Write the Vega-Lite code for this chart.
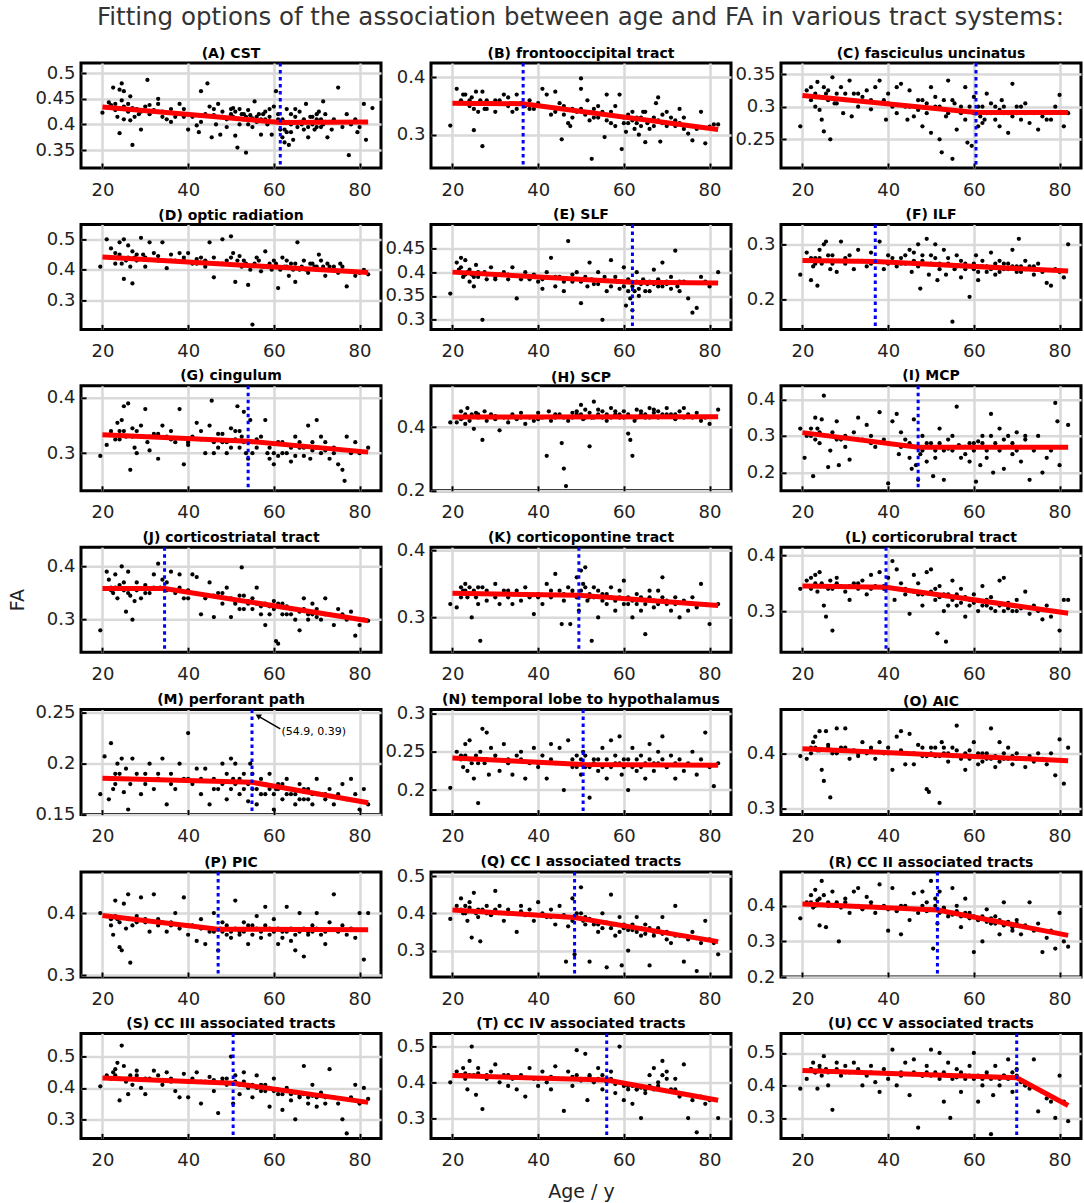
{
  "$schema": "https://vega.github.io/schema/vega-lite/v6.json",
  "background": "white",
  "padding": {"left": 6, "top": 4, "right": 0, "bottom": 0},
  "title": {"text": "Fitting options of the association between age and FA in various tract systems:", "fontSize": 24.5, "fontWeight": "normal", "color": "#333", "offset": 15, "anchor": "middle", "frame": "bounds", "dx": 36, "dy": 0},
  "datasets": {
    "pts": [
      {"p":"A","x":20,"y":0.423},{"p":"A","x":21.5,"y":0.443},{"p":"A","x":22.5,"y":0.472},{"p":"A","x":23,"y":0.44},{"p":"A","x":23.5,"y":0.415},{"p":"A","x":24,"y":0.468},{"p":"A","x":24.5,"y":0.48},{"p":"A","x":24.5,"y":0.447},{"p":"A","x":25,"y":0.465},{"p":"A","x":25,"y":0.435},{"p":"A","x":25,"y":0.41},{"p":"A","x":24,"y":0.383},{"p":"A","x":25.5,"y":0.43},{"p":"A","x":26,"y":0.425},{"p":"A","x":26.5,"y":0.455},{"p":"A","x":26.5,"y":0.408},{"p":"A","x":27,"y":0.36},{"p":"A","x":27.5,"y":0.415},{"p":"A","x":28,"y":0.43},{"p":"A","x":28.5,"y":0.42},{"p":"A","x":29,"y":0.39},{"p":"A","x":30,"y":0.435},{"p":"A","x":30.5,"y":0.487},{"p":"A","x":31,"y":0.438},{"p":"A","x":32,"y":0.428},{"p":"A","x":33,"y":0.45},{"p":"A","x":33,"y":0.44},{"p":"A","x":34,"y":0.415},{"p":"A","x":35,"y":0.41},{"p":"A","x":36,"y":0.43},{"p":"A","x":37,"y":0.415},{"p":"A","x":38,"y":0.44},{"p":"A","x":38.5,"y":0.42},{"p":"A","x":39,"y":0.43},{"p":"A","x":40,"y":0.39},{"p":"A","x":41,"y":0.415},{"p":"A","x":42,"y":0.398},{"p":"A","x":42.5,"y":0.385},{"p":"A","x":43,"y":0.465},{"p":"A","x":44,"y":0.42},{"p":"A","x":44.5,"y":0.48},{"p":"A","x":45,"y":0.435},{"p":"A","x":45.5,"y":0.375},{"p":"A","x":46,"y":0.43},{"p":"A","x":46.5,"y":0.4},{"p":"A","x":47,"y":0.44},{"p":"A","x":47.5,"y":0.38},{"p":"A","x":48,"y":0.415},{"p":"A","x":49,"y":0.395},{"p":"A","x":50,"y":0.43},{"p":"A","x":50,"y":0.42},{"p":"A","x":50.5,"y":0.415},{"p":"A","x":51,"y":0.378},{"p":"A","x":51,"y":0.425},{"p":"A","x":51.5,"y":0.355},{"p":"A","x":52,"y":0.43},{"p":"A","x":52.5,"y":0.42},{"p":"A","x":53,"y":0.41},{"p":"A","x":53,"y":0.42},{"p":"A","x":53.5,"y":0.345},{"p":"A","x":54,"y":0.428},{"p":"A","x":54,"y":0.4},{"p":"A","x":55,"y":0.412},{"p":"A","x":55.5,"y":0.445},{"p":"A","x":56,"y":0.405},{"p":"A","x":56,"y":0.415},{"p":"A","x":57,"y":0.38},{"p":"A","x":57.5,"y":0.42},{"p":"A","x":58,"y":0.41},{"p":"A","x":58,"y":0.425},{"p":"A","x":59,"y":0.43},{"p":"A","x":59.5,"y":0.38},{"p":"A","x":60,"y":0.435},{"p":"A","x":60,"y":0.405},{"p":"A","x":60.5,"y":0.465},{"p":"A","x":61,"y":0.41},{"p":"A","x":61.5,"y":0.39},{"p":"A","x":62,"y":0.375},{"p":"A","x":62,"y":0.41},{"p":"A","x":62.5,"y":0.365},{"p":"A","x":63,"y":0.385},{"p":"A","x":63,"y":0.43},{"p":"A","x":63.5,"y":0.36},{"p":"A","x":64,"y":0.42},{"p":"A","x":64,"y":0.4},{"p":"A","x":64.5,"y":0.37},{"p":"A","x":65,"y":0.43},{"p":"A","x":65.5,"y":0.395},{"p":"A","x":66,"y":0.405},{"p":"A","x":66,"y":0.425},{"p":"A","x":67,"y":0.39},{"p":"A","x":67.5,"y":0.44},{"p":"A","x":68,"y":0.375},{"p":"A","x":68,"y":0.395},{"p":"A","x":68.5,"y":0.415},{"p":"A","x":69,"y":0.4},{"p":"A","x":70,"y":0.41},{"p":"A","x":70,"y":0.395},{"p":"A","x":70.5,"y":0.425},{"p":"A","x":71,"y":0.395},{"p":"A","x":71,"y":0.41},{"p":"A","x":71.5,"y":0.445},{"p":"A","x":72,"y":0.42},{"p":"A","x":72.5,"y":0.375},{"p":"A","x":73,"y":0.405},{"p":"A","x":74,"y":0.41},{"p":"A","x":75,"y":0.472},{"p":"A","x":76,"y":0.395},{"p":"A","x":77,"y":0.42},{"p":"A","x":77.5,"y":0.34},{"p":"A","x":78,"y":0.4},{"p":"A","x":79,"y":0.41},{"p":"A","x":79.5,"y":0.385},{"p":"A","x":80,"y":0.395},{"p":"A","x":81,"y":0.44},{"p":"A","x":81.5,"y":0.37},{"p":"A","x":83,"y":0.432},
      {"p":"A","x":22,"y":0.438},{"p":"A","x":23,"y":0.428},{"p":"A","x":26,"y":0.44},{"p":"A","x":27,"y":0.432},{"p":"A","x":29,"y":0.425},{"p":"A","x":31,"y":0.42},{"p":"A","x":34,"y":0.425},{"p":"A","x":36,"y":0.405},{"p":"A","x":39,"y":0.415},{"p":"A","x":43,"y":0.405},{"p":"A","x":46,"y":0.418},{"p":"A","x":48,"y":0.425},{"p":"A","x":49,"y":0.41},{"p":"A","x":50.5,"y":0.432},{"p":"A","x":52,"y":0.4},{"p":"A","x":53.5,"y":0.415},{"p":"A","x":54.5,"y":0.418},{"p":"A","x":55,"y":0.395},{"p":"A","x":56.5,"y":0.42},{"p":"A","x":57,"y":0.41},{"p":"A","x":58.5,"y":0.4},{"p":"A","x":59,"y":0.415},{"p":"A","x":61,"y":0.42},{"p":"A","x":62.5,"y":0.39},{"p":"A","x":63.5,"y":0.405},{"p":"A","x":64,"y":0.385},{"p":"A","x":65,"y":0.415},{"p":"A","x":66.5,"y":0.4},{"p":"A","x":67,"y":0.41},{"p":"A","x":69,"y":0.415},{"p":"A","x":69.5,"y":0.39},{"p":"A","x":70,"y":0.42},{"p":"A","x":71.5,"y":0.4},{"p":"A","x":72,"y":0.405},{"p":"A","x":73.5,"y":0.39},
      {"p":"B","x":19.5,"y":0.316},{"p":"B","x":21,"y":0.38},{"p":"B","x":22,"y":0.36},{"p":"B","x":23,"y":0.37},{"p":"B","x":23.5,"y":0.355},{"p":"B","x":24,"y":0.35},{"p":"B","x":24.5,"y":0.365},{"p":"B","x":25,"y":0.345},{"p":"B","x":25,"y":0.308},{"p":"B","x":25.5,"y":0.375},{"p":"B","x":26,"y":0.34},{"p":"B","x":26.5,"y":0.36},{"p":"B","x":27,"y":0.375},{"p":"B","x":27,"y":0.28},{"p":"B","x":27.5,"y":0.345},{"p":"B","x":28,"y":0.36},{"p":"B","x":29,"y":0.355},{"p":"B","x":30,"y":0.34},{"p":"B","x":31,"y":0.36},{"p":"B","x":32,"y":0.37},{"p":"B","x":33,"y":0.365},{"p":"B","x":34,"y":0.34},{"p":"B","x":35,"y":0.37},{"p":"B","x":36,"y":0.355},{"p":"B","x":37,"y":0.35},{"p":"B","x":38,"y":0.36},{"p":"B","x":39,"y":0.345},{"p":"B","x":40,"y":0.355},{"p":"B","x":41,"y":0.38},{"p":"B","x":42,"y":0.37},{"p":"B","x":43,"y":0.335},{"p":"B","x":44,"y":0.375},{"p":"B","x":45,"y":0.355},{"p":"B","x":45.5,"y":0.292},{"p":"B","x":46,"y":0.35},{"p":"B","x":47,"y":0.32},{"p":"B","x":47.5,"y":0.315},{"p":"B","x":48,"y":0.345},{"p":"B","x":49,"y":0.34},{"p":"B","x":50,"y":0.38},{"p":"B","x":50,"y":0.398},{"p":"B","x":51,"y":0.335},{"p":"B","x":51.5,"y":0.36},{"p":"B","x":52,"y":0.325},{"p":"B","x":52.5,"y":0.258},{"p":"B","x":53,"y":0.345},{"p":"B","x":54,"y":0.33},{"p":"B","x":55,"y":0.34},{"p":"B","x":55.5,"y":0.296},{"p":"B","x":56,"y":0.37},{"p":"B","x":57,"y":0.32},{"p":"B","x":58,"y":0.35},{"p":"B","x":59,"y":0.37},{"p":"B","x":59.5,"y":0.275},{"p":"B","x":60,"y":0.33},{"p":"B","x":60.5,"y":0.305},{"p":"B","x":61,"y":0.32},{"p":"B","x":62,"y":0.34},{"p":"B","x":62.5,"y":0.31},{"p":"B","x":63,"y":0.33},{"p":"B","x":63.5,"y":0.3},{"p":"B","x":64,"y":0.315},{"p":"B","x":64.5,"y":0.34},{"p":"B","x":65,"y":0.287},{"p":"B","x":65.5,"y":0.32},{"p":"B","x":66,"y":0.31},{"p":"B","x":67,"y":0.33},{"p":"B","x":67.5,"y":0.355},{"p":"B","x":68,"y":0.365},{"p":"B","x":68.5,"y":0.288},{"p":"B","x":69,"y":0.32},{"p":"B","x":70,"y":0.34},{"p":"B","x":71,"y":0.32},{"p":"B","x":72,"y":0.315},{"p":"B","x":73,"y":0.345},{"p":"B","x":74,"y":0.31},{"p":"B","x":75,"y":0.302},{"p":"B","x":76,"y":0.29},{"p":"B","x":77,"y":0.31},{"p":"B","x":78,"y":0.34},{"p":"B","x":79,"y":0.285},{"p":"B","x":80,"y":0.314},{"p":"B","x":81,"y":0.318},{"p":"B","x":82,"y":0.318},
      {"p":"B","x":22.5,"y":0.37},{"p":"B","x":24,"y":0.36},{"p":"B","x":26,"y":0.355},{"p":"B","x":28,"y":0.345},{"p":"B","x":30,"y":0.36},{"p":"B","x":33,"y":0.35},{"p":"B","x":35,"y":0.345},{"p":"B","x":38,"y":0.345},{"p":"B","x":41,"y":0.35},{"p":"B","x":44,"y":0.34},{"p":"B","x":46,"y":0.335},{"p":"B","x":48,"y":0.33},{"p":"B","x":50,"y":0.345},{"p":"B","x":52,"y":0.34},{"p":"B","x":53,"y":0.33},{"p":"B","x":54,"y":0.35},{"p":"B","x":56,"y":0.325},{"p":"B","x":57,"y":0.34},{"p":"B","x":58,"y":0.315},{"p":"B","x":60,"y":0.32},{"p":"B","x":61,"y":0.335},{"p":"B","x":62,"y":0.325},{"p":"B","x":63,"y":0.32},{"p":"B","x":64,"y":0.33},{"p":"B","x":65,"y":0.34},{"p":"B","x":66,"y":0.325},{"p":"B","x":67,"y":0.315},{"p":"B","x":68,"y":0.325},{"p":"B","x":69,"y":0.335},{"p":"B","x":70,"y":0.315},{"p":"B","x":71,"y":0.33},{"p":"B","x":72,"y":0.325},{"p":"B","x":73,"y":0.32},{"p":"B","x":74,"y":0.33},{"p":"B","x":76,"y":0.315},
      {"p":"C","x":19.5,"y":0.27},{"p":"C","x":21,"y":0.325},{"p":"C","x":22,"y":0.33},{"p":"C","x":22.5,"y":0.315},{"p":"C","x":23,"y":0.3},{"p":"C","x":23.5,"y":0.338},{"p":"C","x":24,"y":0.295},{"p":"C","x":24.5,"y":0.28},{"p":"C","x":25,"y":0.262},{"p":"C","x":25,"y":0.33},{"p":"C","x":25.5,"y":0.32},{"p":"C","x":26,"y":0.31},{"p":"C","x":26.5,"y":0.25},{"p":"C","x":27,"y":0.345},{"p":"C","x":27.5,"y":0.305},{"p":"C","x":28,"y":0.32},{"p":"C","x":29,"y":0.33},{"p":"C","x":29.5,"y":0.29},{"p":"C","x":30,"y":0.31},{"p":"C","x":31,"y":0.34},{"p":"C","x":31.5,"y":0.285},{"p":"C","x":32,"y":0.32},{"p":"C","x":33,"y":0.3},{"p":"C","x":34,"y":0.315},{"p":"C","x":35,"y":0.325},{"p":"C","x":36,"y":0.296},{"p":"C","x":37,"y":0.33},{"p":"C","x":38,"y":0.34},{"p":"C","x":39,"y":0.31},{"p":"C","x":39.5,"y":0.28},{"p":"C","x":40,"y":0.305},{"p":"C","x":41,"y":0.3},{"p":"C","x":42,"y":0.33},{"p":"C","x":43,"y":0.335},{"p":"C","x":44,"y":0.3},{"p":"C","x":44.5,"y":0.28},{"p":"C","x":45,"y":0.325},{"p":"C","x":46,"y":0.285},{"p":"C","x":47,"y":0.31},{"p":"C","x":48,"y":0.27},{"p":"C","x":49,"y":0.305},{"p":"C","x":50,"y":0.33},{"p":"C","x":50,"y":0.26},{"p":"C","x":51,"y":0.3},{"p":"C","x":52,"y":0.25},{"p":"C","x":52.5,"y":0.23},{"p":"C","x":53,"y":0.31},{"p":"C","x":53.5,"y":0.285},{"p":"C","x":54,"y":0.34},{"p":"C","x":55,"y":0.22},{"p":"C","x":55.5,"y":0.305},{"p":"C","x":56,"y":0.265},{"p":"C","x":57,"y":0.29},{"p":"C","x":58,"y":0.33},{"p":"C","x":58.5,"y":0.245},{"p":"C","x":59,"y":0.3},{"p":"C","x":59.5,"y":0.24},{"p":"C","x":60,"y":0.315},{"p":"C","x":61,"y":0.27},{"p":"C","x":61.5,"y":0.285},{"p":"C","x":62,"y":0.3},{"p":"C","x":62.5,"y":0.28},{"p":"C","x":63,"y":0.32},{"p":"C","x":64,"y":0.29},{"p":"C","x":65,"y":0.3},{"p":"C","x":66,"y":0.27},{"p":"C","x":66.5,"y":0.31},{"p":"C","x":67,"y":0.29},{"p":"C","x":68,"y":0.26},{"p":"C","x":69,"y":0.335},{"p":"C","x":70,"y":0.3},{"p":"C","x":71,"y":0.28},{"p":"C","x":72,"y":0.305},{"p":"C","x":73,"y":0.275},{"p":"C","x":75,"y":0.265},{"p":"C","x":76,"y":0.285},{"p":"C","x":77,"y":0.28},{"p":"C","x":79,"y":0.3},{"p":"C","x":80,"y":0.318},{"p":"C","x":81,"y":0.27},{"p":"C","x":82,"y":0.29},
      {"p":"C","x":22,"y":0.31},{"p":"C","x":23,"y":0.32},{"p":"C","x":24,"y":0.315},{"p":"C","x":26,"y":0.325},{"p":"C","x":28,"y":0.305},{"p":"C","x":30,"y":0.32},{"p":"C","x":33,"y":0.32},{"p":"C","x":36,"y":0.31},{"p":"C","x":40,"y":0.32},{"p":"C","x":42,"y":0.29},{"p":"C","x":45,"y":0.3},{"p":"C","x":47,"y":0.295},{"p":"C","x":48,"y":0.31},{"p":"C","x":49,"y":0.29},{"p":"C","x":51,"y":0.315},{"p":"C","x":52,"y":0.3},{"p":"C","x":54,"y":0.29},{"p":"C","x":55,"y":0.31},{"p":"C","x":57,"y":0.3},{"p":"C","x":58,"y":0.28},{"p":"C","x":60,"y":0.29},{"p":"C","x":61,"y":0.3},{"p":"C","x":62,"y":0.275},{"p":"C","x":63,"y":0.29},{"p":"C","x":64,"y":0.305},{"p":"C","x":65,"y":0.28},{"p":"C","x":66,"y":0.295},{"p":"C","x":67,"y":0.3},{"p":"C","x":68,"y":0.29},{"p":"C","x":69,"y":0.285},{"p":"C","x":70,"y":0.29},{"p":"C","x":71,"y":0.3},{"p":"C","x":72,"y":0.29},{"p":"C","x":74,"y":0.29},{"p":"C","x":78,"y":0.28},
      {"p":"D","x":19.5,"y":0.41},{"p":"D","x":21,"y":0.5},{"p":"D","x":22,"y":0.47},{"p":"D","x":23,"y":0.455},{"p":"D","x":23.5,"y":0.44},{"p":"D","x":24,"y":0.49},{"p":"D","x":24.5,"y":0.42},{"p":"D","x":25,"y":0.37},{"p":"D","x":25,"y":0.5},{"p":"D","x":25.5,"y":0.43},{"p":"D","x":26,"y":0.48},{"p":"D","x":26.5,"y":0.41},{"p":"D","x":27,"y":0.355},{"p":"D","x":27.5,"y":0.44},{"p":"D","x":28,"y":0.43},{"p":"D","x":29,"y":0.505},{"p":"D","x":29.5,"y":0.45},{"p":"D","x":30,"y":0.41},{"p":"D","x":31,"y":0.49},{"p":"D","x":32,"y":0.455},{"p":"D","x":33,"y":0.445},{"p":"D","x":34,"y":0.49},{"p":"D","x":35,"y":0.405},{"p":"D","x":36,"y":0.45},{"p":"D","x":37,"y":0.43},{"p":"D","x":38,"y":0.455},{"p":"D","x":39,"y":0.44},{"p":"D","x":40,"y":0.455},{"p":"D","x":41,"y":0.42},{"p":"D","x":42,"y":0.435},{"p":"D","x":43,"y":0.44},{"p":"D","x":44,"y":0.41},{"p":"D","x":45,"y":0.49},{"p":"D","x":46,"y":0.375},{"p":"D","x":47,"y":0.42},{"p":"D","x":48,"y":0.5},{"p":"D","x":49,"y":0.43},{"p":"D","x":50,"y":0.51},{"p":"D","x":50.5,"y":0.455},{"p":"D","x":51,"y":0.36},{"p":"D","x":52,"y":0.445},{"p":"D","x":53,"y":0.43},{"p":"D","x":54,"y":0.35},{"p":"D","x":54.5,"y":0.4},{"p":"D","x":55,"y":0.22},{"p":"D","x":55.5,"y":0.42},{"p":"D","x":56,"y":0.44},{"p":"D","x":57,"y":0.395},{"p":"D","x":58,"y":0.46},{"p":"D","x":59,"y":0.42},{"p":"D","x":60,"y":0.43},{"p":"D","x":61,"y":0.34},{"p":"D","x":61.5,"y":0.4},{"p":"D","x":62,"y":0.44},{"p":"D","x":63,"y":0.41},{"p":"D","x":63.5,"y":0.38},{"p":"D","x":64,"y":0.42},{"p":"D","x":65,"y":0.36},{"p":"D","x":65.5,"y":0.49},{"p":"D","x":66,"y":0.4},{"p":"D","x":67,"y":0.43},{"p":"D","x":68,"y":0.39},{"p":"D","x":69,"y":0.42},{"p":"D","x":70,"y":0.41},{"p":"D","x":70.5,"y":0.45},{"p":"D","x":71,"y":0.43},{"p":"D","x":72,"y":0.38},{"p":"D","x":73,"y":0.41},{"p":"D","x":74,"y":0.4},{"p":"D","x":75,"y":0.39},{"p":"D","x":76,"y":0.41},{"p":"D","x":77,"y":0.345},{"p":"D","x":78,"y":0.395},{"p":"D","x":79,"y":0.38},{"p":"D","x":80,"y":0.39},{"p":"D","x":81,"y":0.4},{"p":"D","x":82,"y":0.385},
      {"p":"D","x":22,"y":0.44},{"p":"D","x":23,"y":0.42},{"p":"D","x":24,"y":0.45},{"p":"D","x":26,"y":0.44},{"p":"D","x":27,"y":0.46},{"p":"D","x":28,"y":0.45},{"p":"D","x":30,"y":0.44},{"p":"D","x":33,"y":0.43},{"p":"D","x":36,"y":0.43},{"p":"D","x":39,"y":0.43},{"p":"D","x":42,"y":0.42},{"p":"D","x":44,"y":0.43},{"p":"D","x":46,"y":0.44},{"p":"D","x":48,"y":0.42},{"p":"D","x":50,"y":0.44},{"p":"D","x":51.5,"y":0.43},{"p":"D","x":52.5,"y":0.41},{"p":"D","x":53.5,"y":0.42},{"p":"D","x":56.5,"y":0.43},{"p":"D","x":57.5,"y":0.41},{"p":"D","x":59.5,"y":0.4},{"p":"D","x":60.5,"y":0.42},{"p":"D","x":62.5,"y":0.41},{"p":"D","x":63,"y":0.43},{"p":"D","x":64.5,"y":0.4},{"p":"D","x":65,"y":0.42},{"p":"D","x":66.5,"y":0.41},{"p":"D","x":67.5,"y":0.4},{"p":"D","x":68.5,"y":0.42},{"p":"D","x":69.5,"y":0.41},{"p":"D","x":70,"y":0.4},{"p":"D","x":71.5,"y":0.41},{"p":"D","x":72.5,"y":0.42},{"p":"D","x":74,"y":0.41},{"p":"D","x":75.5,"y":0.42},
      {"p":"E","x":19.5,"y":0.355},{"p":"E","x":21,"y":0.42},{"p":"E","x":21.5,"y":0.405},{"p":"E","x":22,"y":0.43},{"p":"E","x":22.5,"y":0.39},{"p":"E","x":23,"y":0.425},{"p":"E","x":23.5,"y":0.4},{"p":"E","x":24,"y":0.38},{"p":"E","x":24.5,"y":0.395},{"p":"E","x":25,"y":0.37},{"p":"E","x":25.5,"y":0.415},{"p":"E","x":26,"y":0.39},{"p":"E","x":27,"y":0.3},{"p":"E","x":27.5,"y":0.4},{"p":"E","x":28,"y":0.385},{"p":"E","x":29,"y":0.41},{"p":"E","x":30,"y":0.39},{"p":"E","x":31,"y":0.395},{"p":"E","x":32,"y":0.4},{"p":"E","x":33,"y":0.385},{"p":"E","x":34,"y":0.41},{"p":"E","x":35,"y":0.345},{"p":"E","x":36,"y":0.39},{"p":"E","x":37,"y":0.4},{"p":"E","x":38,"y":0.385},{"p":"E","x":39,"y":0.395},{"p":"E","x":40,"y":0.38},{"p":"E","x":41,"y":0.365},{"p":"E","x":42,"y":0.4},{"p":"E","x":43,"y":0.43},{"p":"E","x":44,"y":0.37},{"p":"E","x":45,"y":0.39},{"p":"E","x":46,"y":0.36},{"p":"E","x":47,"y":0.465},{"p":"E","x":48,"y":0.38},{"p":"E","x":49,"y":0.4},{"p":"E","x":50,"y":0.335},{"p":"E","x":51,"y":0.39},{"p":"E","x":52,"y":0.42},{"p":"E","x":53,"y":0.375},{"p":"E","x":54,"y":0.4},{"p":"E","x":55,"y":0.3},{"p":"E","x":56,"y":0.36},{"p":"E","x":57,"y":0.425},{"p":"E","x":58,"y":0.39},{"p":"E","x":59,"y":0.365},{"p":"E","x":60,"y":0.41},{"p":"E","x":60.5,"y":0.33},{"p":"E","x":61,"y":0.385},{"p":"E","x":61.5,"y":0.345},{"p":"E","x":62,"y":0.32},{"p":"E","x":62.5,"y":0.36},{"p":"E","x":63,"y":0.4},{"p":"E","x":63.5,"y":0.35},{"p":"E","x":64,"y":0.375},{"p":"E","x":65,"y":0.36},{"p":"E","x":66,"y":0.38},{"p":"E","x":67,"y":0.405},{"p":"E","x":68,"y":0.37},{"p":"E","x":69,"y":0.42},{"p":"E","x":70,"y":0.38},{"p":"E","x":71,"y":0.39},{"p":"E","x":72,"y":0.445},{"p":"E","x":72.5,"y":0.37},{"p":"E","x":73,"y":0.36},{"p":"E","x":74,"y":0.38},{"p":"E","x":75,"y":0.345},{"p":"E","x":76,"y":0.315},{"p":"E","x":77,"y":0.325},{"p":"E","x":78,"y":0.39},{"p":"E","x":79,"y":0.38},{"p":"E","x":80,"y":0.37},{"p":"E","x":82,"y":0.4},
      {"p":"E","x":22,"y":0.41},{"p":"E","x":23,"y":0.395},{"p":"E","x":24,"y":0.405},{"p":"E","x":25,"y":0.39},{"p":"E","x":26,"y":0.4},{"p":"E","x":28,"y":0.395},{"p":"E","x":30,"y":0.385},{"p":"E","x":33,"y":0.395},{"p":"E","x":36,"y":0.385},{"p":"E","x":38,"y":0.39},{"p":"E","x":41,"y":0.385},{"p":"E","x":44,"y":0.39},{"p":"E","x":46,"y":0.38},{"p":"E","x":48,"y":0.395},{"p":"E","x":50,"y":0.38},{"p":"E","x":51.5,"y":0.37},{"p":"E","x":52.5,"y":0.385},{"p":"E","x":54,"y":0.375},{"p":"E","x":55.5,"y":0.39},{"p":"E","x":57,"y":0.37},{"p":"E","x":58.5,"y":0.38},{"p":"E","x":60,"y":0.37},{"p":"E","x":61,"y":0.36},{"p":"E","x":62,"y":0.37},{"p":"E","x":63,"y":0.38},{"p":"E","x":63.5,"y":0.365},{"p":"E","x":64.5,"y":0.385},{"p":"E","x":65.5,"y":0.375},{"p":"E","x":66,"y":0.36},{"p":"E","x":67,"y":0.375},{"p":"E","x":68,"y":0.385},{"p":"E","x":69,"y":0.37},{"p":"E","x":70,"y":0.375},{"p":"E","x":71,"y":0.365},{"p":"E","x":73,"y":0.38},
      {"p":"F","x":19.5,"y":0.245},{"p":"F","x":21,"y":0.285},{"p":"F","x":21.5,"y":0.27},{"p":"F","x":22,"y":0.235},{"p":"F","x":22.5,"y":0.26},{"p":"F","x":23,"y":0.275},{"p":"F","x":23.5,"y":0.225},{"p":"F","x":24,"y":0.29},{"p":"F","x":24.5,"y":0.265},{"p":"F","x":25,"y":0.3},{"p":"F","x":25.5,"y":0.305},{"p":"F","x":26,"y":0.27},{"p":"F","x":26.5,"y":0.255},{"p":"F","x":27,"y":0.28},{"p":"F","x":28,"y":0.25},{"p":"F","x":28.5,"y":0.27},{"p":"F","x":29,"y":0.305},{"p":"F","x":30,"y":0.265},{"p":"F","x":31,"y":0.28},{"p":"F","x":32,"y":0.255},{"p":"F","x":33,"y":0.29},{"p":"F","x":34,"y":0.27},{"p":"F","x":35,"y":0.26},{"p":"F","x":36,"y":0.285},{"p":"F","x":37,"y":0.27},{"p":"F","x":38,"y":0.305},{"p":"F","x":39,"y":0.255},{"p":"F","x":40,"y":0.265},{"p":"F","x":41,"y":0.275},{"p":"F","x":42,"y":0.26},{"p":"F","x":43,"y":0.265},{"p":"F","x":44,"y":0.28},{"p":"F","x":45,"y":0.29},{"p":"F","x":45.5,"y":0.25},{"p":"F","x":46,"y":0.285},{"p":"F","x":47,"y":0.3},{"p":"F","x":47.5,"y":0.22},{"p":"F","x":48,"y":0.27},{"p":"F","x":49,"y":0.31},{"p":"F","x":49.5,"y":0.245},{"p":"F","x":50,"y":0.28},{"p":"F","x":51,"y":0.3},{"p":"F","x":51.5,"y":0.235},{"p":"F","x":52,"y":0.265},{"p":"F","x":53,"y":0.29},{"p":"F","x":53.5,"y":0.245},{"p":"F","x":54,"y":0.275},{"p":"F","x":55,"y":0.16},{"p":"F","x":55.5,"y":0.255},{"p":"F","x":56,"y":0.28},{"p":"F","x":57,"y":0.24},{"p":"F","x":58,"y":0.265},{"p":"F","x":59,"y":0.205},{"p":"F","x":60,"y":0.255},{"p":"F","x":60.5,"y":0.28},{"p":"F","x":61,"y":0.235},{"p":"F","x":62,"y":0.26},{"p":"F","x":63,"y":0.25},{"p":"F","x":64,"y":0.285},{"p":"F","x":65,"y":0.245},{"p":"F","x":66,"y":0.27},{"p":"F","x":67,"y":0.255},{"p":"F","x":68,"y":0.265},{"p":"F","x":69,"y":0.29},{"p":"F","x":70,"y":0.26},{"p":"F","x":70.5,"y":0.31},{"p":"F","x":71,"y":0.25},{"p":"F","x":72,"y":0.27},{"p":"F","x":73,"y":0.26},{"p":"F","x":74,"y":0.245},{"p":"F","x":75,"y":0.265},{"p":"F","x":76,"y":0.25},{"p":"F","x":77,"y":0.23},{"p":"F","x":78,"y":0.225},{"p":"F","x":79,"y":0.255},{"p":"F","x":80,"y":0.25},{"p":"F","x":81,"y":0.24},{"p":"F","x":82,"y":0.3},
      {"p":"F","x":22,"y":0.275},{"p":"F","x":23,"y":0.265},{"p":"F","x":24,"y":0.275},{"p":"F","x":26,"y":0.28},{"p":"F","x":27,"y":0.265},{"p":"F","x":30,"y":0.275},{"p":"F","x":33,"y":0.27},{"p":"F","x":36,"y":0.265},{"p":"F","x":40,"y":0.28},{"p":"F","x":43,"y":0.275},{"p":"F","x":44,"y":0.265},{"p":"F","x":46,"y":0.27},{"p":"F","x":47,"y":0.26},{"p":"F","x":48,"y":0.28},{"p":"F","x":50,"y":0.265},{"p":"F","x":51,"y":0.275},{"p":"F","x":52,"y":0.255},{"p":"F","x":54,"y":0.265},{"p":"F","x":56,"y":0.26},{"p":"F","x":57,"y":0.27},{"p":"F","x":58,"y":0.255},{"p":"F","x":60,"y":0.265},{"p":"F","x":61,"y":0.25},{"p":"F","x":62,"y":0.27},{"p":"F","x":63,"y":0.26},{"p":"F","x":64,"y":0.255},{"p":"F","x":65,"y":0.265},{"p":"F","x":66,"y":0.25},{"p":"F","x":67,"y":0.265},{"p":"F","x":68,"y":0.255},{"p":"F","x":69,"y":0.26},{"p":"F","x":70,"y":0.25},{"p":"F","x":71,"y":0.26},{"p":"F","x":72,"y":0.255},{"p":"F","x":74,"y":0.26},
      {"p":"G","x":19.5,"y":0.295},{"p":"G","x":21,"y":0.315},{"p":"G","x":22,"y":0.335},{"p":"G","x":23,"y":0.325},{"p":"G","x":23.5,"y":0.355},{"p":"G","x":24,"y":0.34},{"p":"G","x":24.5,"y":0.36},{"p":"G","x":25,"y":0.385},{"p":"G","x":25.5,"y":0.33},{"p":"G","x":26,"y":0.39},{"p":"G","x":26.5,"y":0.27},{"p":"G","x":27,"y":0.345},{"p":"G","x":27.5,"y":0.31},{"p":"G","x":28,"y":0.3},{"p":"G","x":29,"y":0.35},{"p":"G","x":30,"y":0.38},{"p":"G","x":30.5,"y":0.32},{"p":"G","x":31,"y":0.305},{"p":"G","x":32,"y":0.335},{"p":"G","x":33,"y":0.29},{"p":"G","x":34,"y":0.35},{"p":"G","x":35,"y":0.33},{"p":"G","x":36,"y":0.34},{"p":"G","x":37,"y":0.32},{"p":"G","x":38,"y":0.38},{"p":"G","x":39,"y":0.28},{"p":"G","x":40,"y":0.315},{"p":"G","x":41,"y":0.33},{"p":"G","x":42,"y":0.355},{"p":"G","x":43,"y":0.34},{"p":"G","x":44,"y":0.3},{"p":"G","x":45,"y":0.35},{"p":"G","x":45.5,"y":0.395},{"p":"G","x":46,"y":0.3},{"p":"G","x":47,"y":0.335},{"p":"G","x":48,"y":0.32},{"p":"G","x":49,"y":0.3},{"p":"G","x":50,"y":0.345},{"p":"G","x":51,"y":0.34},{"p":"G","x":51.5,"y":0.385},{"p":"G","x":52,"y":0.31},{"p":"G","x":52.5,"y":0.33},{"p":"G","x":53,"y":0.375},{"p":"G","x":53.5,"y":0.3},{"p":"G","x":54,"y":0.29},{"p":"G","x":54.5,"y":0.36},{"p":"G","x":55,"y":0.32},{"p":"G","x":56,"y":0.325},{"p":"G","x":57,"y":0.33},{"p":"G","x":58,"y":0.36},{"p":"G","x":58.5,"y":0.3},{"p":"G","x":59,"y":0.29},{"p":"G","x":60,"y":0.28},{"p":"G","x":61,"y":0.32},{"p":"G","x":62,"y":0.3},{"p":"G","x":63,"y":0.315},{"p":"G","x":64,"y":0.285},{"p":"G","x":65,"y":0.33},{"p":"G","x":66,"y":0.31},{"p":"G","x":67,"y":0.295},{"p":"G","x":68,"y":0.35},{"p":"G","x":68.5,"y":0.29},{"p":"G","x":69,"y":0.32},{"p":"G","x":70,"y":0.36},{"p":"G","x":71,"y":0.33},{"p":"G","x":72,"y":0.305},{"p":"G","x":73,"y":0.29},{"p":"G","x":74,"y":0.3},{"p":"G","x":75,"y":0.28},{"p":"G","x":76,"y":0.27},{"p":"G","x":76.5,"y":0.25},{"p":"G","x":77,"y":0.33},{"p":"G","x":78,"y":0.3},{"p":"G","x":79,"y":0.32},{"p":"G","x":80,"y":0.3},{"p":"G","x":82,"y":0.31},
      {"p":"G","x":22,"y":0.34},{"p":"G","x":24,"y":0.325},{"p":"G","x":25,"y":0.34},{"p":"G","x":27,"y":0.33},{"p":"G","x":28,"y":0.34},{"p":"G","x":31,"y":0.33},{"p":"G","x":33,"y":0.335},{"p":"G","x":36,"y":0.325},{"p":"G","x":40,"y":0.32},{"p":"G","x":43,"y":0.325},{"p":"G","x":46,"y":0.32},{"p":"G","x":47,"y":0.31},{"p":"G","x":48,"y":0.335},{"p":"G","x":49,"y":0.32},{"p":"G","x":50,"y":0.31},{"p":"G","x":51,"y":0.325},{"p":"G","x":52,"y":0.34},{"p":"G","x":53,"y":0.32},{"p":"G","x":55,"y":0.3},{"p":"G","x":56,"y":0.31},{"p":"G","x":57,"y":0.32},{"p":"G","x":59,"y":0.31},{"p":"G","x":60,"y":0.3},{"p":"G","x":61,"y":0.295},{"p":"G","x":62,"y":0.32},{"p":"G","x":63,"y":0.3},{"p":"G","x":64,"y":0.31},{"p":"G","x":65,"y":0.295},{"p":"G","x":66,"y":0.32},{"p":"G","x":67,"y":0.31},{"p":"G","x":69,"y":0.305},{"p":"G","x":70,"y":0.31},{"p":"G","x":71,"y":0.3},{"p":"G","x":72,"y":0.32},{"p":"G","x":74,"y":0.31},
      {"p":"H","x":19.5,"y":0.415},{"p":"H","x":21,"y":0.415},{"p":"H","x":22,"y":0.45},{"p":"H","x":22.5,"y":0.43},{"p":"H","x":23,"y":0.41},{"p":"H","x":23.5,"y":0.46},{"p":"H","x":24,"y":0.42},{"p":"H","x":24.5,"y":0.44},{"p":"H","x":25,"y":0.395},{"p":"H","x":25.5,"y":0.445},{"p":"H","x":26,"y":0.43},{"p":"H","x":27,"y":0.36},{"p":"H","x":27.5,"y":0.45},{"p":"H","x":28,"y":0.42},{"p":"H","x":29,"y":0.44},{"p":"H","x":30,"y":0.425},{"p":"H","x":31,"y":0.39},{"p":"H","x":32,"y":0.43},{"p":"H","x":33,"y":0.415},{"p":"H","x":34,"y":0.44},{"p":"H","x":35,"y":0.425},{"p":"H","x":36,"y":0.445},{"p":"H","x":37,"y":0.41},{"p":"H","x":38,"y":0.43},{"p":"H","x":39,"y":0.42},{"p":"H","x":40,"y":0.445},{"p":"H","x":41,"y":0.43},{"p":"H","x":42,"y":0.31},{"p":"H","x":42.5,"y":0.45},{"p":"H","x":43,"y":0.42},{"p":"H","x":44,"y":0.43},{"p":"H","x":45,"y":0.44},{"p":"H","x":45.5,"y":0.35},{"p":"H","x":46,"y":0.27},{"p":"H","x":46.5,"y":0.215},{"p":"H","x":47,"y":0.42},{"p":"H","x":48,"y":0.445},{"p":"H","x":49,"y":0.44},{"p":"H","x":50,"y":0.47},{"p":"H","x":50.5,"y":0.425},{"p":"H","x":51,"y":0.455},{"p":"H","x":52,"y":0.34},{"p":"H","x":52.5,"y":0.43},{"p":"H","x":53,"y":0.48},{"p":"H","x":54,"y":0.44},{"p":"H","x":55,"y":0.45},{"p":"H","x":56,"y":0.42},{"p":"H","x":57,"y":0.46},{"p":"H","x":58,"y":0.44},{"p":"H","x":59,"y":0.43},{"p":"H","x":60,"y":0.45},{"p":"H","x":61,"y":0.38},{"p":"H","x":61.5,"y":0.36},{"p":"H","x":62,"y":0.31},{"p":"H","x":62.5,"y":0.42},{"p":"H","x":63,"y":0.455},{"p":"H","x":64,"y":0.44},{"p":"H","x":65,"y":0.43},{"p":"H","x":66,"y":0.46},{"p":"H","x":67,"y":0.445},{"p":"H","x":68,"y":0.45},{"p":"H","x":69,"y":0.435},{"p":"H","x":70,"y":0.46},{"p":"H","x":71,"y":0.44},{"p":"H","x":72,"y":0.425},{"p":"H","x":73,"y":0.45},{"p":"H","x":74,"y":0.46},{"p":"H","x":75,"y":0.44},{"p":"H","x":76,"y":0.43},{"p":"H","x":77,"y":0.445},{"p":"H","x":78,"y":0.42},{"p":"H","x":79,"y":0.43},{"p":"H","x":80,"y":0.41},{"p":"H","x":82,"y":0.455},
      {"p":"H","x":22,"y":0.425},{"p":"H","x":23,"y":0.44},{"p":"H","x":24,"y":0.43},{"p":"H","x":26,"y":0.44},{"p":"H","x":28,"y":0.43},{"p":"H","x":30,"y":0.435},{"p":"H","x":33,"y":0.43},{"p":"H","x":36,"y":0.43},{"p":"H","x":40,"y":0.425},{"p":"H","x":44,"y":0.44},{"p":"H","x":46,"y":0.43},{"p":"H","x":48,"y":0.43},{"p":"H","x":49,"y":0.45},{"p":"H","x":50,"y":0.44},{"p":"H","x":51,"y":0.43},{"p":"H","x":52,"y":0.445},{"p":"H","x":53,"y":0.43},{"p":"H","x":54,"y":0.455},{"p":"H","x":55,"y":0.43},{"p":"H","x":56,"y":0.44},{"p":"H","x":57,"y":0.43},{"p":"H","x":58,"y":0.45},{"p":"H","x":59,"y":0.44},{"p":"H","x":60,"y":0.43},{"p":"H","x":61,"y":0.44},{"p":"H","x":63,"y":0.43},{"p":"H","x":64,"y":0.45},{"p":"H","x":65,"y":0.44},{"p":"H","x":66,"y":0.43},{"p":"H","x":67,"y":0.455},{"p":"H","x":68,"y":0.43},{"p":"H","x":69,"y":0.44},{"p":"H","x":70,"y":0.44},{"p":"H","x":72,"y":0.44},{"p":"H","x":74,"y":0.43},
      {"p":"I","x":19.5,"y":0.32},{"p":"I","x":20.5,"y":0.24},{"p":"I","x":21,"y":0.3},{"p":"I","x":22,"y":0.32},{"p":"I","x":22.5,"y":0.19},{"p":"I","x":23,"y":0.35},{"p":"I","x":23.5,"y":0.32},{"p":"I","x":24,"y":0.28},{"p":"I","x":24.5,"y":0.345},{"p":"I","x":25,"y":0.41},{"p":"I","x":25.5,"y":0.3},{"p":"I","x":26,"y":0.215},{"p":"I","x":26.5,"y":0.26},{"p":"I","x":27,"y":0.31},{"p":"I","x":28,"y":0.34},{"p":"I","x":28.5,"y":0.22},{"p":"I","x":29,"y":0.29},{"p":"I","x":30,"y":0.27},{"p":"I","x":31,"y":0.235},{"p":"I","x":32,"y":0.31},{"p":"I","x":33,"y":0.35},{"p":"I","x":34,"y":0.29},{"p":"I","x":35,"y":0.33},{"p":"I","x":36,"y":0.28},{"p":"I","x":37,"y":0.27},{"p":"I","x":38,"y":0.365},{"p":"I","x":39,"y":0.29},{"p":"I","x":40,"y":0.17},{"p":"I","x":41,"y":0.34},{"p":"I","x":42,"y":0.36},{"p":"I","x":42.5,"y":0.25},{"p":"I","x":43,"y":0.31},{"p":"I","x":44,"y":0.29},{"p":"I","x":45,"y":0.24},{"p":"I","x":45.5,"y":0.21},{"p":"I","x":46,"y":0.345},{"p":"I","x":46.5,"y":0.22},{"p":"I","x":47,"y":0.18},{"p":"I","x":47.5,"y":0.25},{"p":"I","x":48,"y":0.3},{"p":"I","x":49,"y":0.23},{"p":"I","x":50,"y":0.28},{"p":"I","x":50.5,"y":0.19},{"p":"I","x":51,"y":0.26},{"p":"I","x":52,"y":0.32},{"p":"I","x":52.5,"y":0.27},{"p":"I","x":53,"y":0.18},{"p":"I","x":54,"y":0.265},{"p":"I","x":55,"y":0.3},{"p":"I","x":56,"y":0.38},{"p":"I","x":56.5,"y":0.275},{"p":"I","x":57,"y":0.24},{"p":"I","x":58,"y":0.27},{"p":"I","x":59,"y":0.23},{"p":"I","x":60,"y":0.28},{"p":"I","x":60.5,"y":0.175},{"p":"I","x":61,"y":0.285},{"p":"I","x":61.5,"y":0.22},{"p":"I","x":62,"y":0.3},{"p":"I","x":63,"y":0.24},{"p":"I","x":64,"y":0.36},{"p":"I","x":64.5,"y":0.2},{"p":"I","x":65,"y":0.27},{"p":"I","x":66,"y":0.32},{"p":"I","x":67,"y":0.21},{"p":"I","x":68,"y":0.3},{"p":"I","x":69,"y":0.25},{"p":"I","x":70,"y":0.31},{"p":"I","x":71,"y":0.23},{"p":"I","x":72,"y":0.29},{"p":"I","x":73,"y":0.18},{"p":"I","x":74,"y":0.26},{"p":"I","x":75,"y":0.3},{"p":"I","x":76,"y":0.2},{"p":"I","x":77,"y":0.24},{"p":"I","x":78,"y":0.26},{"p":"I","x":79,"y":0.39},{"p":"I","x":79.5,"y":0.34},{"p":"I","x":80,"y":0.22},{"p":"I","x":82,"y":0.33},
      {"p":"I","x":22,"y":0.3},{"p":"I","x":23,"y":0.29},{"p":"I","x":24,"y":0.31},{"p":"I","x":26,"y":0.3},{"p":"I","x":28,"y":0.29},{"p":"I","x":30,"y":0.3},{"p":"I","x":33,"y":0.29},{"p":"I","x":36,"y":0.3},{"p":"I","x":40,"y":0.28},{"p":"I","x":43,"y":0.27},{"p":"I","x":45,"y":0.28},{"p":"I","x":48,"y":0.26},{"p":"I","x":49,"y":0.28},{"p":"I","x":50,"y":0.27},{"p":"I","x":51,"y":0.24},{"p":"I","x":52,"y":0.28},{"p":"I","x":53,"y":0.26},{"p":"I","x":54,"y":0.29},{"p":"I","x":55,"y":0.26},{"p":"I","x":57,"y":0.27},{"p":"I","x":58,"y":0.25},{"p":"I","x":59,"y":0.28},{"p":"I","x":60,"y":0.26},{"p":"I","x":61,"y":0.27},{"p":"I","x":62,"y":0.28},{"p":"I","x":63,"y":0.26},{"p":"I","x":64,"y":0.3},{"p":"I","x":65,"y":0.28},{"p":"I","x":66,"y":0.26},{"p":"I","x":67,"y":0.29},{"p":"I","x":68,"y":0.27},{"p":"I","x":69,"y":0.28},{"p":"I","x":70,"y":0.26},{"p":"I","x":71,"y":0.27},{"p":"I","x":72,"y":0.3},
      {"p":"J","x":19.5,"y":0.28},{"p":"J","x":21,"y":0.39},{"p":"J","x":21.5,"y":0.375},{"p":"J","x":22,"y":0.355},{"p":"J","x":22.5,"y":0.35},{"p":"J","x":23,"y":0.385},{"p":"J","x":23.5,"y":0.34},{"p":"J","x":24,"y":0.365},{"p":"J","x":24.5,"y":0.4},{"p":"J","x":25,"y":0.355},{"p":"J","x":25.5,"y":0.315},{"p":"J","x":26,"y":0.39},{"p":"J","x":26.5,"y":0.345},{"p":"J","x":27,"y":0.3},{"p":"J","x":27.5,"y":0.335},{"p":"J","x":28,"y":0.37},{"p":"J","x":29,"y":0.34},{"p":"J","x":30,"y":0.365},{"p":"J","x":31,"y":0.35},{"p":"J","x":32,"y":0.385},{"p":"J","x":33,"y":0.405},{"p":"J","x":33.5,"y":0.36},{"p":"J","x":34,"y":0.375},{"p":"J","x":35,"y":0.37},{"p":"J","x":36,"y":0.39},{"p":"J","x":37,"y":0.35},{"p":"J","x":38,"y":0.385},{"p":"J","x":39,"y":0.34},{"p":"J","x":40,"y":0.355},{"p":"J","x":41,"y":0.385},{"p":"J","x":42,"y":0.38},{"p":"J","x":43,"y":0.31},{"p":"J","x":44,"y":0.345},{"p":"J","x":45,"y":0.37},{"p":"J","x":46,"y":0.305},{"p":"J","x":47,"y":0.35},{"p":"J","x":48,"y":0.33},{"p":"J","x":49,"y":0.36},{"p":"J","x":50,"y":0.305},{"p":"J","x":51,"y":0.335},{"p":"J","x":52,"y":0.345},{"p":"J","x":52.5,"y":0.398},{"p":"J","x":53,"y":0.32},{"p":"J","x":54,"y":0.335},{"p":"J","x":55,"y":0.34},{"p":"J","x":56,"y":0.36},{"p":"J","x":57,"y":0.31},{"p":"J","x":58,"y":0.29},{"p":"J","x":59,"y":0.325},{"p":"J","x":60,"y":0.335},{"p":"J","x":60.5,"y":0.26},{"p":"J","x":61,"y":0.255},{"p":"J","x":62,"y":0.33},{"p":"J","x":63,"y":0.31},{"p":"J","x":64,"y":0.32},{"p":"J","x":65,"y":0.3},{"p":"J","x":66,"y":0.28},{"p":"J","x":67,"y":0.34},{"p":"J","x":68,"y":0.31},{"p":"J","x":69,"y":0.33},{"p":"J","x":70,"y":0.32},{"p":"J","x":71,"y":0.3},{"p":"J","x":72,"y":0.34},{"p":"J","x":73,"y":0.31},{"p":"J","x":74,"y":0.29},{"p":"J","x":75,"y":0.32},{"p":"J","x":76,"y":0.31},{"p":"J","x":77,"y":0.3},{"p":"J","x":78,"y":0.315},{"p":"J","x":79,"y":0.27},{"p":"J","x":80,"y":0.29},{"p":"J","x":81,"y":0.3},{"p":"J","x":82,"y":0.298},
      {"p":"J","x":22,"y":0.36},{"p":"J","x":23,"y":0.36},{"p":"J","x":25,"y":0.37},{"p":"J","x":26,"y":0.35},{"p":"J","x":28,"y":0.355},{"p":"J","x":30,"y":0.35},{"p":"J","x":32,"y":0.36},{"p":"J","x":35,"y":0.355},{"p":"J","x":38,"y":0.36},{"p":"J","x":40,"y":0.34},{"p":"J","x":44,"y":0.34},{"p":"J","x":46,"y":0.345},{"p":"J","x":48,"y":0.35},{"p":"J","x":50,"y":0.34},{"p":"J","x":51,"y":0.33},{"p":"J","x":52,"y":0.32},{"p":"J","x":53,"y":0.345},{"p":"J","x":54,"y":0.33},{"p":"J","x":55,"y":0.32},{"p":"J","x":56,"y":0.33},{"p":"J","x":57,"y":0.325},{"p":"J","x":58,"y":0.33},{"p":"J","x":59,"y":0.31},{"p":"J","x":60,"y":0.32},{"p":"J","x":61,"y":0.33},{"p":"J","x":62,"y":0.31},{"p":"J","x":63,"y":0.325},{"p":"J","x":64,"y":0.31},{"p":"J","x":65,"y":0.32},{"p":"J","x":66,"y":0.315},{"p":"J","x":67,"y":0.32},{"p":"J","x":68,"y":0.3},{"p":"J","x":69,"y":0.31},{"p":"J","x":70,"y":0.305},{"p":"J","x":72,"y":0.31},
      {"p":"K","x":19.5,"y":0.32},{"p":"K","x":21,"y":0.315},{"p":"K","x":22,"y":0.345},{"p":"K","x":22.5,"y":0.34},{"p":"K","x":23,"y":0.35},{"p":"K","x":23.5,"y":0.33},{"p":"K","x":24,"y":0.345},{"p":"K","x":24.5,"y":0.3},{"p":"K","x":25,"y":0.34},{"p":"K","x":25.5,"y":0.33},{"p":"K","x":26,"y":0.32},{"p":"K","x":26.5,"y":0.265},{"p":"K","x":27,"y":0.345},{"p":"K","x":28,"y":0.325},{"p":"K","x":29,"y":0.335},{"p":"K","x":30,"y":0.35},{"p":"K","x":31,"y":0.32},{"p":"K","x":32,"y":0.34},{"p":"K","x":33,"y":0.33},{"p":"K","x":34,"y":0.32},{"p":"K","x":35,"y":0.34},{"p":"K","x":36,"y":0.325},{"p":"K","x":37,"y":0.345},{"p":"K","x":38,"y":0.33},{"p":"K","x":39,"y":0.305},{"p":"K","x":40,"y":0.335},{"p":"K","x":41,"y":0.32},{"p":"K","x":42,"y":0.35},{"p":"K","x":43,"y":0.33},{"p":"K","x":44,"y":0.365},{"p":"K","x":45,"y":0.34},{"p":"K","x":45.5,"y":0.29},{"p":"K","x":46,"y":0.325},{"p":"K","x":47,"y":0.345},{"p":"K","x":47.5,"y":0.29},{"p":"K","x":48,"y":0.335},{"p":"K","x":49,"y":0.36},{"p":"K","x":49.5,"y":0.31},{"p":"K","x":50,"y":0.37},{"p":"K","x":50.5,"y":0.35},{"p":"K","x":51,"y":0.375},{"p":"K","x":51.5,"y":0.325},{"p":"K","x":52,"y":0.33},{"p":"K","x":52.5,"y":0.265},{"p":"K","x":53,"y":0.345},{"p":"K","x":54,"y":0.3},{"p":"K","x":55,"y":0.335},{"p":"K","x":56,"y":0.32},{"p":"K","x":57,"y":0.345},{"p":"K","x":58,"y":0.31},{"p":"K","x":59,"y":0.33},{"p":"K","x":60,"y":0.355},{"p":"K","x":61,"y":0.32},{"p":"K","x":62,"y":0.3},{"p":"K","x":63,"y":0.335},{"p":"K","x":64,"y":0.31},{"p":"K","x":65,"y":0.275},{"p":"K","x":66,"y":0.33},{"p":"K","x":67,"y":0.315},{"p":"K","x":68,"y":0.34},{"p":"K","x":69,"y":0.36},{"p":"K","x":70,"y":0.32},{"p":"K","x":71,"y":0.31},{"p":"K","x":72,"y":0.33},{"p":"K","x":73,"y":0.3},{"p":"K","x":74,"y":0.325},{"p":"K","x":75,"y":0.31},{"p":"K","x":76,"y":0.33},{"p":"K","x":77,"y":0.315},{"p":"K","x":78,"y":0.35},{"p":"K","x":79,"y":0.32},{"p":"K","x":80,"y":0.29},{"p":"K","x":82,"y":0.32},
      {"p":"K","x":22,"y":0.33},{"p":"K","x":23,"y":0.34},{"p":"K","x":24,"y":0.335},{"p":"K","x":26,"y":0.345},{"p":"K","x":28,"y":0.34},{"p":"K","x":30,"y":0.33},{"p":"K","x":33,"y":0.34},{"p":"K","x":36,"y":0.335},{"p":"K","x":40,"y":0.33},{"p":"K","x":43,"y":0.34},{"p":"K","x":46,"y":0.335},{"p":"K","x":48,"y":0.34},{"p":"K","x":49,"y":0.33},{"p":"K","x":50,"y":0.34},{"p":"K","x":51,"y":0.345},{"p":"K","x":52,"y":0.335},{"p":"K","x":53,"y":0.33},{"p":"K","x":54,"y":0.34},{"p":"K","x":55,"y":0.325},{"p":"K","x":56,"y":0.335},{"p":"K","x":57,"y":0.33},{"p":"K","x":58,"y":0.325},{"p":"K","x":59,"y":0.34},{"p":"K","x":60,"y":0.32},{"p":"K","x":61,"y":0.33},{"p":"K","x":62,"y":0.325},{"p":"K","x":63,"y":0.32},{"p":"K","x":64,"y":0.33},{"p":"K","x":65,"y":0.32},{"p":"K","x":66,"y":0.34},{"p":"K","x":67,"y":0.325},{"p":"K","x":68,"y":0.32},{"p":"K","x":69,"y":0.33},{"p":"K","x":70,"y":0.325},{"p":"K","x":72,"y":0.32},
      {"p":"L","x":19.5,"y":0.34},{"p":"L","x":21,"y":0.355},{"p":"L","x":21.5,"y":0.345},{"p":"L","x":22,"y":0.36},{"p":"L","x":23,"y":0.365},{"p":"L","x":23.5,"y":0.335},{"p":"L","x":24,"y":0.37},{"p":"L","x":24.5,"y":0.35},{"p":"L","x":25,"y":0.31},{"p":"L","x":25.5,"y":0.29},{"p":"L","x":26,"y":0.34},{"p":"L","x":26.5,"y":0.355},{"p":"L","x":27,"y":0.265},{"p":"L","x":28,"y":0.36},{"p":"L","x":29,"y":0.345},{"p":"L","x":30,"y":0.335},{"p":"L","x":31,"y":0.32},{"p":"L","x":32,"y":0.35},{"p":"L","x":33,"y":0.34},{"p":"L","x":34,"y":0.355},{"p":"L","x":35,"y":0.33},{"p":"L","x":36,"y":0.365},{"p":"L","x":37,"y":0.345},{"p":"L","x":38,"y":0.37},{"p":"L","x":39,"y":0.34},{"p":"L","x":40,"y":0.36},{"p":"L","x":41,"y":0.39},{"p":"L","x":41.5,"y":0.32},{"p":"L","x":42,"y":0.375},{"p":"L","x":43,"y":0.35},{"p":"L","x":44,"y":0.34},{"p":"L","x":45,"y":0.295},{"p":"L","x":46,"y":0.365},{"p":"L","x":47,"y":0.33},{"p":"L","x":48,"y":0.31},{"p":"L","x":49,"y":0.37},{"p":"L","x":50,"y":0.375},{"p":"L","x":51,"y":0.32},{"p":"L","x":51.5,"y":0.26},{"p":"L","x":52,"y":0.345},{"p":"L","x":53,"y":0.3},{"p":"L","x":53.5,"y":0.245},{"p":"L","x":54,"y":0.33},{"p":"L","x":55,"y":0.355},{"p":"L","x":56,"y":0.31},{"p":"L","x":57,"y":0.34},{"p":"L","x":58,"y":0.29},{"p":"L","x":59,"y":0.32},{"p":"L","x":60,"y":0.33},{"p":"L","x":61,"y":0.3},{"p":"L","x":62,"y":0.345},{"p":"L","x":63,"y":0.31},{"p":"L","x":64,"y":0.325},{"p":"L","x":65,"y":0.3},{"p":"L","x":66,"y":0.355},{"p":"L","x":67,"y":0.36},{"p":"L","x":68,"y":0.315},{"p":"L","x":69,"y":0.3},{"p":"L","x":70,"y":0.32},{"p":"L","x":71,"y":0.305},{"p":"L","x":72,"y":0.335},{"p":"L","x":73,"y":0.295},{"p":"L","x":74,"y":0.31},{"p":"L","x":75,"y":0.3},{"p":"L","x":76,"y":0.285},{"p":"L","x":77,"y":0.31},{"p":"L","x":78,"y":0.29},{"p":"L","x":79,"y":0.3},{"p":"L","x":80,"y":0.265},{"p":"L","x":81,"y":0.32},{"p":"L","x":82,"y":0.32},
      {"p":"L","x":22,"y":0.34},{"p":"L","x":23,"y":0.35},{"p":"L","x":25,"y":0.345},{"p":"L","x":27,"y":0.34},{"p":"L","x":28,"y":0.35},{"p":"L","x":31,"y":0.345},{"p":"L","x":33,"y":0.35},{"p":"L","x":36,"y":0.34},{"p":"L","x":39,"y":0.345},{"p":"L","x":42,"y":0.34},{"p":"L","x":44,"y":0.33},{"p":"L","x":46,"y":0.335},{"p":"L","x":47,"y":0.35},{"p":"L","x":48,"y":0.33},{"p":"L","x":50,"y":0.335},{"p":"L","x":51,"y":0.34},{"p":"L","x":52,"y":0.325},{"p":"L","x":53,"y":0.33},{"p":"L","x":54,"y":0.31},{"p":"L","x":55,"y":0.32},{"p":"L","x":56,"y":0.33},{"p":"L","x":57,"y":0.315},{"p":"L","x":58,"y":0.325},{"p":"L","x":59,"y":0.31},{"p":"L","x":60,"y":0.315},{"p":"L","x":61,"y":0.32},{"p":"L","x":62,"y":0.31},{"p":"L","x":63,"y":0.32},{"p":"L","x":64,"y":0.305},{"p":"L","x":65,"y":0.315},{"p":"L","x":66,"y":0.31},{"p":"L","x":67,"y":0.3},{"p":"L","x":68,"y":0.305},{"p":"L","x":69,"y":0.31},{"p":"L","x":70,"y":0.3},
      {"p":"M","x":19.5,"y":0.17},{"p":"M","x":20.5,"y":0.207},{"p":"M","x":21.5,"y":0.165},{"p":"M","x":22,"y":0.22},{"p":"M","x":22.5,"y":0.175},{"p":"M","x":23,"y":0.19},{"p":"M","x":23.5,"y":0.2},{"p":"M","x":24,"y":0.185},{"p":"M","x":24.5,"y":0.205},{"p":"M","x":25,"y":0.172},{"p":"M","x":25.5,"y":0.195},{"p":"M","x":26,"y":0.155},{"p":"M","x":26.5,"y":0.18},{"p":"M","x":27,"y":0.205},{"p":"M","x":28,"y":0.185},{"p":"M","x":29,"y":0.17},{"p":"M","x":30,"y":0.19},{"p":"M","x":31,"y":0.2},{"p":"M","x":32,"y":0.175},{"p":"M","x":33,"y":0.185},{"p":"M","x":34,"y":0.205},{"p":"M","x":35,"y":0.16},{"p":"M","x":36,"y":0.19},{"p":"M","x":37,"y":0.175},{"p":"M","x":38,"y":0.2},{"p":"M","x":39,"y":0.185},{"p":"M","x":40,"y":0.23},{"p":"M","x":41,"y":0.18},{"p":"M","x":42,"y":0.195},{"p":"M","x":43,"y":0.17},{"p":"M","x":44,"y":0.195},{"p":"M","x":45,"y":0.16},{"p":"M","x":46,"y":0.185},{"p":"M","x":47,"y":0.175},{"p":"M","x":48,"y":0.2},{"p":"M","x":49,"y":0.165},{"p":"M","x":50,"y":0.205},{"p":"M","x":50.5,"y":0.185},{"p":"M","x":51,"y":0.2},{"p":"M","x":52,"y":0.17},{"p":"M","x":53,"y":0.19},{"p":"M","x":54,"y":0.163},{"p":"M","x":54.5,"y":0.2},{"p":"M","x":55,"y":0.175},{"p":"M","x":56,"y":0.16},{"p":"M","x":57,"y":0.185},{"p":"M","x":58,"y":0.17},{"p":"M","x":59,"y":0.19},{"p":"M","x":60,"y":0.155},{"p":"M","x":60.5,"y":0.175},{"p":"M","x":61,"y":0.18},{"p":"M","x":62,"y":0.165},{"p":"M","x":63,"y":0.185},{"p":"M","x":64,"y":0.17},{"p":"M","x":65,"y":0.16},{"p":"M","x":66,"y":0.18},{"p":"M","x":67,"y":0.165},{"p":"M","x":68,"y":0.175},{"p":"M","x":69,"y":0.16},{"p":"M","x":70,"y":0.185},{"p":"M","x":71,"y":0.17},{"p":"M","x":72,"y":0.165},{"p":"M","x":73,"y":0.175},{"p":"M","x":74,"y":0.16},{"p":"M","x":75,"y":0.17},{"p":"M","x":76,"y":0.18},{"p":"M","x":77,"y":0.165},{"p":"M","x":78,"y":0.185},{"p":"M","x":79,"y":0.17},{"p":"M","x":80,"y":0.155},{"p":"M","x":81,"y":0.175},{"p":"M","x":82,"y":0.16},
      {"p":"M","x":22,"y":0.185},{"p":"M","x":23,"y":0.18},{"p":"M","x":24,"y":0.19},{"p":"M","x":26,"y":0.185},{"p":"M","x":28,"y":0.19},{"p":"M","x":30,"y":0.18},{"p":"M","x":33,"y":0.19},{"p":"M","x":36,"y":0.18},{"p":"M","x":40,"y":0.185},{"p":"M","x":43,"y":0.185},{"p":"M","x":46,"y":0.175},{"p":"M","x":48,"y":0.18},{"p":"M","x":49,"y":0.19},{"p":"M","x":50,"y":0.175},{"p":"M","x":51,"y":0.18},{"p":"M","x":52,"y":0.185},{"p":"M","x":53,"y":0.175},{"p":"M","x":54,"y":0.18},{"p":"M","x":55,"y":0.19},{"p":"M","x":56,"y":0.175},{"p":"M","x":57,"y":0.17},{"p":"M","x":58,"y":0.18},{"p":"M","x":59,"y":0.175},{"p":"M","x":60,"y":0.17},{"p":"M","x":61,"y":0.175},{"p":"M","x":62,"y":0.18},{"p":"M","x":63,"y":0.17},{"p":"M","x":64,"y":0.175},{"p":"M","x":65,"y":0.17},{"p":"M","x":66,"y":0.165},{"p":"M","x":67,"y":0.175},{"p":"M","x":68,"y":0.165},{"p":"M","x":69,"y":0.17},{"p":"M","x":70,"y":0.17},{"p":"M","x":72,"y":0.17},
      {"p":"N","x":19.5,"y":0.203},{"p":"N","x":21,"y":0.25},{"p":"N","x":22,"y":0.245},{"p":"N","x":22.5,"y":0.23},{"p":"N","x":23,"y":0.26},{"p":"N","x":23.5,"y":0.225},{"p":"N","x":24,"y":0.265},{"p":"N","x":24.5,"y":0.235},{"p":"N","x":25,"y":0.215},{"p":"N","x":25.5,"y":0.245},{"p":"N","x":26,"y":0.183},{"p":"N","x":26.5,"y":0.25},{"p":"N","x":27,"y":0.28},{"p":"N","x":27.5,"y":0.235},{"p":"N","x":28,"y":0.275},{"p":"N","x":28.5,"y":0.22},{"p":"N","x":29,"y":0.255},{"p":"N","x":30,"y":0.24},{"p":"N","x":31,"y":0.225},{"p":"N","x":32,"y":0.26},{"p":"N","x":33,"y":0.24},{"p":"N","x":34,"y":0.22},{"p":"N","x":35,"y":0.245},{"p":"N","x":36,"y":0.25},{"p":"N","x":37,"y":0.215},{"p":"N","x":38,"y":0.235},{"p":"N","x":39,"y":0.255},{"p":"N","x":40,"y":0.23},{"p":"N","x":41,"y":0.245},{"p":"N","x":42,"y":0.215},{"p":"N","x":43,"y":0.26},{"p":"N","x":44,"y":0.235},{"p":"N","x":45,"y":0.255},{"p":"N","x":46,"y":0.2},{"p":"N","x":47,"y":0.265},{"p":"N","x":48,"y":0.23},{"p":"N","x":49,"y":0.245},{"p":"N","x":50,"y":0.22},{"p":"N","x":50.5,"y":0.25},{"p":"N","x":51,"y":0.23},{"p":"N","x":52,"y":0.19},{"p":"N","x":53,"y":0.24},{"p":"N","x":54,"y":0.225},{"p":"N","x":55,"y":0.255},{"p":"N","x":56,"y":0.215},{"p":"N","x":57,"y":0.265},{"p":"N","x":58,"y":0.235},{"p":"N","x":59,"y":0.27},{"p":"N","x":59.5,"y":0.22},{"p":"N","x":60,"y":0.24},{"p":"N","x":61,"y":0.2},{"p":"N","x":62,"y":0.255},{"p":"N","x":63,"y":0.225},{"p":"N","x":64,"y":0.245},{"p":"N","x":65,"y":0.215},{"p":"N","x":66,"y":0.26},{"p":"N","x":67,"y":0.235},{"p":"N","x":68,"y":0.25},{"p":"N","x":69,"y":0.27},{"p":"N","x":70,"y":0.23},{"p":"N","x":71,"y":0.245},{"p":"N","x":72,"y":0.215},{"p":"N","x":73,"y":0.24},{"p":"N","x":74,"y":0.225},{"p":"N","x":75,"y":0.235},{"p":"N","x":76,"y":0.25},{"p":"N","x":77,"y":0.22},{"p":"N","x":78,"y":0.24},{"p":"N","x":79,"y":0.275},{"p":"N","x":80,"y":0.23},{"p":"N","x":81,"y":0.205},{"p":"N","x":82,"y":0.235},
      {"p":"N","x":22,"y":0.24},{"p":"N","x":23,"y":0.245},{"p":"N","x":24,"y":0.24},{"p":"N","x":26,"y":0.235},{"p":"N","x":28,"y":0.24},{"p":"N","x":30,"y":0.245},{"p":"N","x":33,"y":0.235},{"p":"N","x":36,"y":0.24},{"p":"N","x":40,"y":0.235},{"p":"N","x":43,"y":0.24},{"p":"N","x":46,"y":0.235},{"p":"N","x":48,"y":0.24},{"p":"N","x":49,"y":0.23},{"p":"N","x":50,"y":0.24},{"p":"N","x":51,"y":0.245},{"p":"N","x":52,"y":0.23},{"p":"N","x":53,"y":0.235},{"p":"N","x":54,"y":0.24},{"p":"N","x":55,"y":0.23},{"p":"N","x":56,"y":0.24},{"p":"N","x":57,"y":0.23},{"p":"N","x":58,"y":0.245},{"p":"N","x":59,"y":0.235},{"p":"N","x":60,"y":0.23},{"p":"N","x":61,"y":0.24},{"p":"N","x":62,"y":0.23},{"p":"N","x":63,"y":0.24},{"p":"N","x":64,"y":0.23},{"p":"N","x":65,"y":0.235},{"p":"N","x":66,"y":0.24},{"p":"N","x":67,"y":0.225},{"p":"N","x":68,"y":0.235},{"p":"N","x":69,"y":0.24},{"p":"N","x":70,"y":0.23},{"p":"N","x":72,"y":0.235},
      {"p":"O","x":19.5,"y":0.395},{"p":"O","x":21,"y":0.39},{"p":"O","x":22,"y":0.41},{"p":"O","x":22.5,"y":0.42},{"p":"O","x":23,"y":0.43},{"p":"O","x":23.5,"y":0.405},{"p":"O","x":24,"y":0.44},{"p":"O","x":24.5,"y":0.37},{"p":"O","x":25,"y":0.35},{"p":"O","x":25.5,"y":0.44},{"p":"O","x":26,"y":0.415},{"p":"O","x":26.5,"y":0.32},{"p":"O","x":27,"y":0.4},{"p":"O","x":28,"y":0.445},{"p":"O","x":29,"y":0.41},{"p":"O","x":30,"y":0.445},{"p":"O","x":31,"y":0.39},{"p":"O","x":32,"y":0.405},{"p":"O","x":33,"y":0.395},{"p":"O","x":34,"y":0.42},{"p":"O","x":35,"y":0.4},{"p":"O","x":36,"y":0.405},{"p":"O","x":37,"y":0.39},{"p":"O","x":38,"y":0.42},{"p":"O","x":39,"y":0.4},{"p":"O","x":40,"y":0.41},{"p":"O","x":41,"y":0.37},{"p":"O","x":42,"y":0.43},{"p":"O","x":43,"y":0.44},{"p":"O","x":44,"y":0.38},{"p":"O","x":45,"y":0.435},{"p":"O","x":46,"y":0.38},{"p":"O","x":47,"y":0.415},{"p":"O","x":48,"y":0.395},{"p":"O","x":49,"y":0.335},{"p":"O","x":49.5,"y":0.33},{"p":"O","x":50,"y":0.41},{"p":"O","x":51,"y":0.395},{"p":"O","x":52,"y":0.31},{"p":"O","x":52.5,"y":0.42},{"p":"O","x":53,"y":0.4},{"p":"O","x":54,"y":0.385},{"p":"O","x":55,"y":0.41},{"p":"O","x":56,"y":0.45},{"p":"O","x":57,"y":0.395},{"p":"O","x":58,"y":0.37},{"p":"O","x":59,"y":0.405},{"p":"O","x":60,"y":0.42},{"p":"O","x":61,"y":0.38},{"p":"O","x":62,"y":0.4},{"p":"O","x":63,"y":0.39},{"p":"O","x":64,"y":0.445},{"p":"O","x":65,"y":0.375},{"p":"O","x":66,"y":0.42},{"p":"O","x":67,"y":0.39},{"p":"O","x":68,"y":0.41},{"p":"O","x":69,"y":0.38},{"p":"O","x":70,"y":0.4},{"p":"O","x":71,"y":0.39},{"p":"O","x":72,"y":0.375},{"p":"O","x":73,"y":0.395},{"p":"O","x":74,"y":0.385},{"p":"O","x":75,"y":0.4},{"p":"O","x":76,"y":0.39},{"p":"O","x":77,"y":0.38},{"p":"O","x":78,"y":0.4},{"p":"O","x":79,"y":0.36},{"p":"O","x":80,"y":0.425},{"p":"O","x":81,"y":0.345},{"p":"O","x":82,"y":0.41},
      {"p":"O","x":22,"y":0.4},{"p":"O","x":23,"y":0.41},{"p":"O","x":24,"y":0.405},{"p":"O","x":26,"y":0.41},{"p":"O","x":28,"y":0.4},{"p":"O","x":30,"y":0.41},{"p":"O","x":33,"y":0.4},{"p":"O","x":36,"y":0.41},{"p":"O","x":40,"y":0.4},{"p":"O","x":43,"y":0.405},{"p":"O","x":46,"y":0.4},{"p":"O","x":48,"y":0.41},{"p":"O","x":49,"y":0.395},{"p":"O","x":50,"y":0.4},{"p":"O","x":51,"y":0.41},{"p":"O","x":52,"y":0.395},{"p":"O","x":53,"y":0.41},{"p":"O","x":54,"y":0.4},{"p":"O","x":55,"y":0.395},{"p":"O","x":56,"y":0.405},{"p":"O","x":57,"y":0.39},{"p":"O","x":58,"y":0.4},{"p":"O","x":59,"y":0.39},{"p":"O","x":60,"y":0.395},{"p":"O","x":61,"y":0.4},{"p":"O","x":62,"y":0.385},{"p":"O","x":63,"y":0.4},{"p":"O","x":64,"y":0.39},{"p":"O","x":65,"y":0.395},{"p":"O","x":66,"y":0.385},{"p":"O","x":67,"y":0.4},{"p":"O","x":68,"y":0.39},{"p":"O","x":69,"y":0.395},{"p":"O","x":70,"y":0.39},{"p":"O","x":72,"y":0.39},
      {"p":"P","x":19.5,"y":0.4},{"p":"P","x":21,"y":0.395},{"p":"P","x":22,"y":0.38},{"p":"P","x":22.5,"y":0.365},{"p":"P","x":23,"y":0.42},{"p":"P","x":23.5,"y":0.39},{"p":"P","x":24,"y":0.345},{"p":"P","x":24.5,"y":0.34},{"p":"P","x":25,"y":0.415},{"p":"P","x":25.5,"y":0.375},{"p":"P","x":26,"y":0.43},{"p":"P","x":26.5,"y":0.32},{"p":"P","x":27,"y":0.38},{"p":"P","x":28,"y":0.395},{"p":"P","x":29,"y":0.425},{"p":"P","x":30,"y":0.385},{"p":"P","x":31,"y":0.37},{"p":"P","x":32,"y":0.43},{"p":"P","x":33,"y":0.39},{"p":"P","x":34,"y":0.385},{"p":"P","x":35,"y":0.37},{"p":"P","x":36,"y":0.38},{"p":"P","x":37,"y":0.4},{"p":"P","x":38,"y":0.375},{"p":"P","x":39,"y":0.425},{"p":"P","x":40,"y":0.365},{"p":"P","x":41,"y":0.38},{"p":"P","x":42,"y":0.355},{"p":"P","x":43,"y":0.39},{"p":"P","x":44,"y":0.35},{"p":"P","x":45,"y":0.37},{"p":"P","x":46,"y":0.4},{"p":"P","x":47,"y":0.34},{"p":"P","x":47.5,"y":0.375},{"p":"P","x":48,"y":0.385},{"p":"P","x":49,"y":0.365},{"p":"P","x":50,"y":0.36},{"p":"P","x":51,"y":0.42},{"p":"P","x":52,"y":0.37},{"p":"P","x":53,"y":0.385},{"p":"P","x":54,"y":0.35},{"p":"P","x":55,"y":0.38},{"p":"P","x":56,"y":0.395},{"p":"P","x":57,"y":0.36},{"p":"P","x":58,"y":0.41},{"p":"P","x":59,"y":0.375},{"p":"P","x":60,"y":0.39},{"p":"P","x":61,"y":0.35},{"p":"P","x":62,"y":0.37},{"p":"P","x":63,"y":0.41},{"p":"P","x":64,"y":0.355},{"p":"P","x":65,"y":0.34},{"p":"P","x":66,"y":0.4},{"p":"P","x":67,"y":0.33},{"p":"P","x":68,"y":0.37},{"p":"P","x":69,"y":0.38},{"p":"P","x":70,"y":0.4},{"p":"P","x":71,"y":0.365},{"p":"P","x":72,"y":0.35},{"p":"P","x":73,"y":0.385},{"p":"P","x":74,"y":0.43},{"p":"P","x":75,"y":0.37},{"p":"P","x":76,"y":0.38},{"p":"P","x":77,"y":0.365},{"p":"P","x":78,"y":0.375},{"p":"P","x":79,"y":0.36},{"p":"P","x":80,"y":0.4},{"p":"P","x":81,"y":0.325},{"p":"P","x":82,"y":0.4},
      {"p":"P","x":22,"y":0.39},{"p":"P","x":23,"y":0.395},{"p":"P","x":24,"y":0.385},{"p":"P","x":26,"y":0.39},{"p":"P","x":28,"y":0.385},{"p":"P","x":30,"y":0.39},{"p":"P","x":33,"y":0.38},{"p":"P","x":36,"y":0.385},{"p":"P","x":40,"y":0.38},{"p":"P","x":43,"y":0.375},{"p":"P","x":46,"y":0.37},{"p":"P","x":48,"y":0.37},{"p":"P","x":49,"y":0.38},{"p":"P","x":50,"y":0.37},{"p":"P","x":51,"y":0.375},{"p":"P","x":52,"y":0.365},{"p":"P","x":53,"y":0.37},{"p":"P","x":54,"y":0.38},{"p":"P","x":55,"y":0.365},{"p":"P","x":56,"y":0.375},{"p":"P","x":57,"y":0.37},{"p":"P","x":58,"y":0.38},{"p":"P","x":59,"y":0.365},{"p":"P","x":60,"y":0.37},{"p":"P","x":61,"y":0.375},{"p":"P","x":62,"y":0.36},{"p":"P","x":63,"y":0.37},{"p":"P","x":64,"y":0.375},{"p":"P","x":65,"y":0.365},{"p":"P","x":66,"y":0.37},{"p":"P","x":67,"y":0.375},{"p":"P","x":68,"y":0.365},{"p":"P","x":69,"y":0.37},{"p":"P","x":70,"y":0.375},{"p":"P","x":72,"y":0.37},
      {"p":"Q","x":19.5,"y":0.385},{"p":"Q","x":21,"y":0.42},{"p":"Q","x":22,"y":0.44},{"p":"Q","x":22.5,"y":0.4},{"p":"Q","x":23,"y":0.42},{"p":"Q","x":23.5,"y":0.38},{"p":"Q","x":24,"y":0.43},{"p":"Q","x":24.5,"y":0.335},{"p":"Q","x":25,"y":0.455},{"p":"Q","x":25.5,"y":0.4},{"p":"Q","x":26,"y":0.39},{"p":"Q","x":26.5,"y":0.325},{"p":"Q","x":27,"y":0.41},{"p":"Q","x":28,"y":0.42},{"p":"Q","x":29,"y":0.395},{"p":"Q","x":30,"y":0.46},{"p":"Q","x":31,"y":0.42},{"p":"Q","x":32,"y":0.38},{"p":"Q","x":33,"y":0.41},{"p":"Q","x":34,"y":0.4},{"p":"Q","x":35,"y":0.35},{"p":"Q","x":36,"y":0.42},{"p":"Q","x":37,"y":0.395},{"p":"Q","x":38,"y":0.41},{"p":"Q","x":39,"y":0.38},{"p":"Q","x":40,"y":0.43},{"p":"Q","x":41,"y":0.4},{"p":"Q","x":42,"y":0.39},{"p":"Q","x":43,"y":0.41},{"p":"Q","x":44,"y":0.37},{"p":"Q","x":45,"y":0.42},{"p":"Q","x":46,"y":0.39},{"p":"Q","x":46.5,"y":0.27},{"p":"Q","x":47,"y":0.365},{"p":"Q","x":48,"y":0.44},{"p":"Q","x":48.5,"y":0.29},{"p":"Q","x":49,"y":0.4},{"p":"Q","x":50,"y":0.47},{"p":"Q","x":50.5,"y":0.38},{"p":"Q","x":51,"y":0.39},{"p":"Q","x":52,"y":0.27},{"p":"Q","x":53,"y":0.37},{"p":"Q","x":54,"y":0.35},{"p":"Q","x":55,"y":0.4},{"p":"Q","x":56,"y":0.255},{"p":"Q","x":57,"y":0.45},{"p":"Q","x":57.5,"y":0.37},{"p":"Q","x":58,"y":0.34},{"p":"Q","x":59,"y":0.39},{"p":"Q","x":59.5,"y":0.26},{"p":"Q","x":60,"y":0.37},{"p":"Q","x":61,"y":0.3},{"p":"Q","x":62,"y":0.355},{"p":"Q","x":63,"y":0.39},{"p":"Q","x":64,"y":0.34},{"p":"Q","x":65,"y":0.37},{"p":"Q","x":66,"y":0.26},{"p":"Q","x":67,"y":0.35},{"p":"Q","x":68,"y":0.36},{"p":"Q","x":69,"y":0.39},{"p":"Q","x":70,"y":0.33},{"p":"Q","x":71,"y":0.32},{"p":"Q","x":72,"y":0.42},{"p":"Q","x":73,"y":0.34},{"p":"Q","x":74,"y":0.27},{"p":"Q","x":75,"y":0.33},{"p":"Q","x":76,"y":0.35},{"p":"Q","x":77,"y":0.245},{"p":"Q","x":78,"y":0.32},{"p":"Q","x":79,"y":0.38},{"p":"Q","x":80,"y":0.33},{"p":"Q","x":81,"y":0.32},{"p":"Q","x":82,"y":0.29},
      {"p":"Q","x":22,"y":0.41},{"p":"Q","x":23,"y":0.4},{"p":"Q","x":24,"y":0.415},{"p":"Q","x":26,"y":0.41},{"p":"Q","x":28,"y":0.4},{"p":"Q","x":30,"y":0.41},{"p":"Q","x":33,"y":0.4},{"p":"Q","x":36,"y":0.405},{"p":"Q","x":40,"y":0.395},{"p":"Q","x":43,"y":0.39},{"p":"Q","x":46,"y":0.395},{"p":"Q","x":48,"y":0.38},{"p":"Q","x":49,"y":0.39},{"p":"Q","x":50,"y":0.4},{"p":"Q","x":51,"y":0.37},{"p":"Q","x":52,"y":0.385},{"p":"Q","x":53,"y":0.38},{"p":"Q","x":54,"y":0.37},{"p":"Q","x":55,"y":0.36},{"p":"Q","x":56,"y":0.375},{"p":"Q","x":57,"y":0.36},{"p":"Q","x":58,"y":0.37},{"p":"Q","x":59,"y":0.35},{"p":"Q","x":60,"y":0.36},{"p":"Q","x":61,"y":0.355},{"p":"Q","x":62,"y":0.37},{"p":"Q","x":63,"y":0.35},{"p":"Q","x":64,"y":0.36},{"p":"Q","x":65,"y":0.345},{"p":"Q","x":66,"y":0.36},{"p":"Q","x":67,"y":0.34},{"p":"Q","x":68,"y":0.35},{"p":"Q","x":69,"y":0.345},{"p":"Q","x":70,"y":0.35},{"p":"Q","x":72,"y":0.34},
      {"p":"R","x":19.5,"y":0.365},{"p":"R","x":21,"y":0.41},{"p":"R","x":22,"y":0.43},{"p":"R","x":22.5,"y":0.395},{"p":"R","x":23,"y":0.445},{"p":"R","x":23.5,"y":0.415},{"p":"R","x":24,"y":0.345},{"p":"R","x":24.5,"y":0.47},{"p":"R","x":25,"y":0.43},{"p":"R","x":25.5,"y":0.34},{"p":"R","x":26,"y":0.4},{"p":"R","x":27,"y":0.44},{"p":"R","x":28,"y":0.41},{"p":"R","x":28.5,"y":0.3},{"p":"R","x":29,"y":0.395},{"p":"R","x":30,"y":0.42},{"p":"R","x":31,"y":0.38},{"p":"R","x":32,"y":0.44},{"p":"R","x":33,"y":0.45},{"p":"R","x":34,"y":0.39},{"p":"R","x":35,"y":0.425},{"p":"R","x":36,"y":0.41},{"p":"R","x":37,"y":0.38},{"p":"R","x":38,"y":0.46},{"p":"R","x":39,"y":0.4},{"p":"R","x":40,"y":0.33},{"p":"R","x":41,"y":0.45},{"p":"R","x":42,"y":0.385},{"p":"R","x":43,"y":0.32},{"p":"R","x":44,"y":0.4},{"p":"R","x":45,"y":0.36},{"p":"R","x":46,"y":0.435},{"p":"R","x":47,"y":0.38},{"p":"R","x":48,"y":0.44},{"p":"R","x":49,"y":0.41},{"p":"R","x":50,"y":0.47},{"p":"R","x":50.5,"y":0.28},{"p":"R","x":51,"y":0.42},{"p":"R","x":51.5,"y":0.35},{"p":"R","x":52,"y":0.44},{"p":"R","x":53,"y":0.395},{"p":"R","x":54,"y":0.37},{"p":"R","x":55,"y":0.45},{"p":"R","x":56,"y":0.4},{"p":"R","x":57,"y":0.34},{"p":"R","x":58,"y":0.42},{"p":"R","x":59,"y":0.38},{"p":"R","x":60,"y":0.27},{"p":"R","x":61,"y":0.36},{"p":"R","x":62,"y":0.3},{"p":"R","x":63,"y":0.39},{"p":"R","x":64,"y":0.35},{"p":"R","x":65,"y":0.37},{"p":"R","x":66,"y":0.32},{"p":"R","x":67,"y":0.41},{"p":"R","x":68,"y":0.35},{"p":"R","x":69,"y":0.33},{"p":"R","x":70,"y":0.36},{"p":"R","x":71,"y":0.32},{"p":"R","x":72,"y":0.34},{"p":"R","x":73,"y":0.41},{"p":"R","x":74,"y":0.33},{"p":"R","x":75,"y":0.35},{"p":"R","x":76,"y":0.27},{"p":"R","x":77,"y":0.31},{"p":"R","x":78,"y":0.33},{"p":"R","x":79,"y":0.28},{"p":"R","x":80,"y":0.38},{"p":"R","x":81,"y":0.3},{"p":"R","x":82,"y":0.285},
      {"p":"R","x":22,"y":0.41},{"p":"R","x":23,"y":0.4},{"p":"R","x":24,"y":0.42},{"p":"R","x":26,"y":0.41},{"p":"R","x":28,"y":0.4},{"p":"R","x":30,"y":0.41},{"p":"R","x":33,"y":0.4},{"p":"R","x":36,"y":0.4},{"p":"R","x":40,"y":0.39},{"p":"R","x":43,"y":0.4},{"p":"R","x":46,"y":0.39},{"p":"R","x":48,"y":0.4},{"p":"R","x":49,"y":0.385},{"p":"R","x":50,"y":0.39},{"p":"R","x":51,"y":0.4},{"p":"R","x":52,"y":0.38},{"p":"R","x":53,"y":0.39},{"p":"R","x":54,"y":0.38},{"p":"R","x":55,"y":0.375},{"p":"R","x":56,"y":0.385},{"p":"R","x":57,"y":0.37},{"p":"R","x":58,"y":0.38},{"p":"R","x":59,"y":0.365},{"p":"R","x":60,"y":0.37},{"p":"R","x":61,"y":0.36},{"p":"R","x":62,"y":0.37},{"p":"R","x":63,"y":0.355},{"p":"R","x":64,"y":0.365},{"p":"R","x":65,"y":0.35},{"p":"R","x":66,"y":0.36},{"p":"R","x":67,"y":0.345},{"p":"R","x":68,"y":0.355},{"p":"R","x":69,"y":0.34},{"p":"R","x":70,"y":0.35},{"p":"R","x":72,"y":0.345},
      {"p":"S","x":19.5,"y":0.405},{"p":"S","x":21,"y":0.44},{"p":"S","x":22,"y":0.43},{"p":"S","x":22.5,"y":0.45},{"p":"S","x":23,"y":0.46},{"p":"S","x":23.5,"y":0.48},{"p":"S","x":24,"y":0.36},{"p":"S","x":24.5,"y":0.535},{"p":"S","x":25,"y":0.47},{"p":"S","x":25.5,"y":0.42},{"p":"S","x":26,"y":0.38},{"p":"S","x":26.5,"y":0.44},{"p":"S","x":27,"y":0.41},{"p":"S","x":28,"y":0.455},{"p":"S","x":29,"y":0.4},{"p":"S","x":30,"y":0.38},{"p":"S","x":31,"y":0.43},{"p":"S","x":32,"y":0.455},{"p":"S","x":33,"y":0.44},{"p":"S","x":34,"y":0.41},{"p":"S","x":35,"y":0.45},{"p":"S","x":36,"y":0.42},{"p":"S","x":37,"y":0.39},{"p":"S","x":38,"y":0.37},{"p":"S","x":39,"y":0.445},{"p":"S","x":40,"y":0.37},{"p":"S","x":41,"y":0.43},{"p":"S","x":42,"y":0.45},{"p":"S","x":43,"y":0.35},{"p":"S","x":44,"y":0.42},{"p":"S","x":45,"y":0.435},{"p":"S","x":46,"y":0.39},{"p":"S","x":47,"y":0.32},{"p":"S","x":48,"y":0.43},{"p":"S","x":49,"y":0.41},{"p":"S","x":50,"y":0.5},{"p":"S","x":50.5,"y":0.35},{"p":"S","x":51,"y":0.44},{"p":"S","x":52,"y":0.38},{"p":"S","x":53,"y":0.45},{"p":"S","x":54,"y":0.41},{"p":"S","x":55,"y":0.37},{"p":"S","x":56,"y":0.44},{"p":"S","x":57,"y":0.39},{"p":"S","x":58,"y":0.41},{"p":"S","x":59,"y":0.34},{"p":"S","x":60,"y":0.43},{"p":"S","x":61,"y":0.38},{"p":"S","x":62,"y":0.33},{"p":"S","x":63,"y":0.4},{"p":"S","x":64,"y":0.36},{"p":"S","x":65,"y":0.3},{"p":"S","x":66,"y":0.37},{"p":"S","x":67,"y":0.47},{"p":"S","x":68,"y":0.35},{"p":"S","x":69,"y":0.41},{"p":"S","x":70,"y":0.34},{"p":"S","x":71,"y":0.385},{"p":"S","x":72,"y":0.35},{"p":"S","x":73,"y":0.46},{"p":"S","x":74,"y":0.37},{"p":"S","x":75,"y":0.35},{"p":"S","x":76,"y":0.3},{"p":"S","x":77,"y":0.255},{"p":"S","x":78,"y":0.37},{"p":"S","x":79,"y":0.41},{"p":"S","x":80,"y":0.35},{"p":"S","x":81,"y":0.4},{"p":"S","x":82,"y":0.365},
      {"p":"S","x":22,"y":0.43},{"p":"S","x":23,"y":0.44},{"p":"S","x":24,"y":0.43},{"p":"S","x":26,"y":0.43},{"p":"S","x":28,"y":0.44},{"p":"S","x":30,"y":0.43},{"p":"S","x":33,"y":0.425},{"p":"S","x":36,"y":0.43},{"p":"S","x":40,"y":0.42},{"p":"S","x":43,"y":0.42},{"p":"S","x":46,"y":0.425},{"p":"S","x":48,"y":0.42},{"p":"S","x":49,"y":0.43},{"p":"S","x":50,"y":0.415},{"p":"S","x":51,"y":0.42},{"p":"S","x":52,"y":0.41},{"p":"S","x":53,"y":0.42},{"p":"S","x":54,"y":0.4},{"p":"S","x":55,"y":0.41},{"p":"S","x":56,"y":0.4},{"p":"S","x":57,"y":0.41},{"p":"S","x":58,"y":0.39},{"p":"S","x":59,"y":0.4},{"p":"S","x":60,"y":0.39},{"p":"S","x":61,"y":0.395},{"p":"S","x":62,"y":0.38},{"p":"S","x":63,"y":0.39},{"p":"S","x":64,"y":0.38},{"p":"S","x":65,"y":0.385},{"p":"S","x":66,"y":0.375},{"p":"S","x":67,"y":0.38},{"p":"S","x":68,"y":0.37},{"p":"S","x":69,"y":0.375},{"p":"S","x":70,"y":0.37},{"p":"S","x":72,"y":0.37},
      {"p":"T","x":19.5,"y":0.4},{"p":"T","x":21,"y":0.43},{"p":"T","x":22,"y":0.42},{"p":"T","x":22.5,"y":0.44},{"p":"T","x":23,"y":0.41},{"p":"T","x":23.5,"y":0.38},{"p":"T","x":24,"y":0.46},{"p":"T","x":24.5,"y":0.5},{"p":"T","x":25,"y":0.42},{"p":"T","x":25.5,"y":0.365},{"p":"T","x":26,"y":0.44},{"p":"T","x":27,"y":0.325},{"p":"T","x":28,"y":0.41},{"p":"T","x":29,"y":0.43},{"p":"T","x":30,"y":0.45},{"p":"T","x":31,"y":0.4},{"p":"T","x":32,"y":0.42},{"p":"T","x":33,"y":0.39},{"p":"T","x":34,"y":0.41},{"p":"T","x":35,"y":0.38},{"p":"T","x":36,"y":0.42},{"p":"T","x":37,"y":0.36},{"p":"T","x":38,"y":0.44},{"p":"T","x":39,"y":0.41},{"p":"T","x":40,"y":0.39},{"p":"T","x":41,"y":0.43},{"p":"T","x":42,"y":0.4},{"p":"T","x":43,"y":0.38},{"p":"T","x":44,"y":0.445},{"p":"T","x":45,"y":0.41},{"p":"T","x":46,"y":0.32},{"p":"T","x":47,"y":0.43},{"p":"T","x":48,"y":0.39},{"p":"T","x":49,"y":0.49},{"p":"T","x":50,"y":0.41},{"p":"T","x":51,"y":0.48},{"p":"T","x":51.5,"y":0.35},{"p":"T","x":52,"y":0.42},{"p":"T","x":53,"y":0.4},{"p":"T","x":54,"y":0.44},{"p":"T","x":55,"y":0.38},{"p":"T","x":56,"y":0.41},{"p":"T","x":57,"y":0.43},{"p":"T","x":58,"y":0.37},{"p":"T","x":59,"y":0.5},{"p":"T","x":60,"y":0.35},{"p":"T","x":61,"y":0.39},{"p":"T","x":62,"y":0.34},{"p":"T","x":63,"y":0.38},{"p":"T","x":64,"y":0.3},{"p":"T","x":65,"y":0.37},{"p":"T","x":66,"y":0.42},{"p":"T","x":67,"y":0.44},{"p":"T","x":68,"y":0.39},{"p":"T","x":69,"y":0.46},{"p":"T","x":70,"y":0.43},{"p":"T","x":71,"y":0.38},{"p":"T","x":72,"y":0.41},{"p":"T","x":73,"y":0.36},{"p":"T","x":74,"y":0.45},{"p":"T","x":75,"y":0.3},{"p":"T","x":76,"y":0.35},{"p":"T","x":77,"y":0.26},{"p":"T","x":78,"y":0.36},{"p":"T","x":79,"y":0.34},{"p":"T","x":80,"y":0.35},{"p":"T","x":82,"y":0.3},
      {"p":"T","x":22,"y":0.42},{"p":"T","x":23,"y":0.425},{"p":"T","x":24,"y":0.42},{"p":"T","x":26,"y":0.425},{"p":"T","x":28,"y":0.42},{"p":"T","x":30,"y":0.415},{"p":"T","x":33,"y":0.42},{"p":"T","x":36,"y":0.415},{"p":"T","x":40,"y":0.41},{"p":"T","x":43,"y":0.415},{"p":"T","x":46,"y":0.41},{"p":"T","x":48,"y":0.415},{"p":"T","x":49,"y":0.42},{"p":"T","x":50,"y":0.405},{"p":"T","x":51,"y":0.41},{"p":"T","x":52,"y":0.415},{"p":"T","x":53,"y":0.405},{"p":"T","x":54,"y":0.41},{"p":"T","x":55,"y":0.42},{"p":"T","x":56,"y":0.4},{"p":"T","x":57,"y":0.41},{"p":"T","x":58,"y":0.395},{"p":"T","x":59,"y":0.4},{"p":"T","x":60,"y":0.39},{"p":"T","x":61,"y":0.38},{"p":"T","x":62,"y":0.39},{"p":"T","x":63,"y":0.38},{"p":"T","x":64,"y":0.385},{"p":"T","x":65,"y":0.38},{"p":"T","x":66,"y":0.39},{"p":"T","x":67,"y":0.38},{"p":"T","x":68,"y":0.4},{"p":"T","x":69,"y":0.42},{"p":"T","x":70,"y":0.41},{"p":"T","x":72,"y":0.38},
      {"p":"U","x":19.5,"y":0.39},{"p":"U","x":21,"y":0.42},{"p":"U","x":22,"y":0.45},{"p":"U","x":22.5,"y":0.47},{"p":"U","x":23,"y":0.44},{"p":"U","x":23.5,"y":0.39},{"p":"U","x":24,"y":0.46},{"p":"U","x":24.5,"y":0.43},{"p":"U","x":25,"y":0.49},{"p":"U","x":25.5,"y":0.45},{"p":"U","x":26,"y":0.4},{"p":"U","x":27,"y":0.325},{"p":"U","x":28,"y":0.47},{"p":"U","x":29,"y":0.43},{"p":"U","x":30,"y":0.46},{"p":"U","x":31,"y":0.44},{"p":"U","x":32,"y":0.47},{"p":"U","x":33,"y":0.45},{"p":"U","x":34,"y":0.4},{"p":"U","x":35,"y":0.43},{"p":"U","x":36,"y":0.46},{"p":"U","x":37,"y":0.41},{"p":"U","x":38,"y":0.38},{"p":"U","x":39,"y":0.45},{"p":"U","x":40,"y":0.42},{"p":"U","x":41,"y":0.51},{"p":"U","x":42,"y":0.4},{"p":"U","x":43,"y":0.44},{"p":"U","x":44,"y":0.47},{"p":"U","x":45,"y":0.37},{"p":"U","x":46,"y":0.48},{"p":"U","x":47,"y":0.27},{"p":"U","x":48,"y":0.43},{"p":"U","x":49,"y":0.46},{"p":"U","x":50,"y":0.51},{"p":"U","x":51,"y":0.44},{"p":"U","x":52,"y":0.5},{"p":"U","x":53,"y":0.35},{"p":"U","x":54,"y":0.47},{"p":"U","x":54.5,"y":0.3},{"p":"U","x":55,"y":0.42},{"p":"U","x":56,"y":0.45},{"p":"U","x":57,"y":0.38},{"p":"U","x":58,"y":0.43},{"p":"U","x":59,"y":0.46},{"p":"U","x":60,"y":0.5},{"p":"U","x":61,"y":0.35},{"p":"U","x":62,"y":0.4},{"p":"U","x":63,"y":0.44},{"p":"U","x":64,"y":0.25},{"p":"U","x":64.5,"y":0.37},{"p":"U","x":65,"y":0.46},{"p":"U","x":66,"y":0.4},{"p":"U","x":67,"y":0.43},{"p":"U","x":68,"y":0.48},{"p":"U","x":69,"y":0.38},{"p":"U","x":70,"y":0.45},{"p":"U","x":71,"y":0.41},{"p":"U","x":72,"y":0.4},{"p":"U","x":73,"y":0.39},{"p":"U","x":74,"y":0.48},{"p":"U","x":75,"y":0.32},{"p":"U","x":76,"y":0.38},{"p":"U","x":77,"y":0.36},{"p":"U","x":78,"y":0.35},{"p":"U","x":79,"y":0.3},{"p":"U","x":80,"y":0.43},{"p":"U","x":81,"y":0.35},{"p":"U","x":82,"y":0.29},
      {"p":"U","x":22,"y":0.45},{"p":"U","x":23,"y":0.44},{"p":"U","x":24,"y":0.45},{"p":"U","x":26,"y":0.44},{"p":"U","x":28,"y":0.45},{"p":"U","x":30,"y":0.44},{"p":"U","x":33,"y":0.44},{"p":"U","x":36,"y":0.44},{"p":"U","x":40,"y":0.435},{"p":"U","x":43,"y":0.43},{"p":"U","x":46,"y":0.44},{"p":"U","x":48,"y":0.43},{"p":"U","x":49,"y":0.44},{"p":"U","x":50,"y":0.43},{"p":"U","x":51,"y":0.435},{"p":"U","x":52,"y":0.42},{"p":"U","x":53,"y":0.44},{"p":"U","x":54,"y":0.43},{"p":"U","x":55,"y":0.43},{"p":"U","x":56,"y":0.425},{"p":"U","x":57,"y":0.44},{"p":"U","x":58,"y":0.42},{"p":"U","x":59,"y":0.43},{"p":"U","x":60,"y":0.42},{"p":"U","x":61,"y":0.43},{"p":"U","x":62,"y":0.42},{"p":"U","x":63,"y":0.43},{"p":"U","x":64,"y":0.42},{"p":"U","x":65,"y":0.425},{"p":"U","x":66,"y":0.42},{"p":"U","x":67,"y":0.43},{"p":"U","x":68,"y":0.42},{"p":"U","x":69,"y":0.44},{"p":"U","x":70,"y":0.43},{"p":"U","x":72,"y":0.4}
    ],
    "fit": [
      {"p":"A","x":20,"y":0.434},{"p":"A","x":61.5,"y":0.404},{"p":"A","x":82,"y":0.405},
      {"p":"B","x":20,"y":0.355},{"p":"B","x":36.5,"y":0.354},{"p":"B","x":82,"y":0.309},
      {"p":"C","x":20,"y":0.317},{"p":"C","x":60.5,"y":0.291},{"p":"C","x":82,"y":0.291},
      {"p":"D","x":20,"y":0.442},{"p":"D","x":82,"y":0.391},
      {"p":"E","x":20,"y":0.4},{"p":"E","x":62,"y":0.379},{"p":"E","x":82,"y":0.377},
      {"p":"F","x":20,"y":0.2706},{"p":"F","x":37,"y":0.2687},{"p":"F","x":82,"y":0.2515},
      {"p":"G","x":20,"y":0.3333},{"p":"G","x":54,"y":0.3216},{"p":"G","x":82,"y":0.302},
      {"p":"H","x":20,"y":0.432},{"p":"H","x":82,"y":0.433},
      {"p":"I","x":20,"y":0.309},{"p":"I","x":47,"y":0.269},{"p":"I","x":82,"y":0.269},
      {"p":"J","x":20,"y":0.3586},{"p":"J","x":34.5,"y":0.3586},{"p":"J","x":82,"y":0.298},
      {"p":"K","x":20,"y":0.336},{"p":"K","x":49.5,"y":0.333},{"p":"K","x":82,"y":0.318},
      {"p":"L","x":20,"y":0.345},{"p":"L","x":39.5,"y":0.343},{"p":"L","x":82,"y":0.296},
      {"p":"M","x":20,"y":0.1857},{"p":"M","x":54.9,"y":0.1817},{"p":"M","x":82,"y":0.1617},
      {"p":"N","x":20,"y":0.242},{"p":"N","x":50.5,"y":0.2333},{"p":"N","x":82,"y":0.2325},
      {"p":"O","x":20,"y":0.408},{"p":"O","x":82,"y":0.3866},
      {"p":"P","x":20,"y":0.396},{"p":"P","x":47,"y":0.374},{"p":"P","x":82,"y":0.373},
      {"p":"Q","x":20,"y":0.409},{"p":"Q","x":48.5,"y":0.389},{"p":"Q","x":82,"y":0.324},
      {"p":"R","x":20,"y":0.405},{"p":"R","x":51.5,"y":0.388},{"p":"R","x":82,"y":0.317},
      {"p":"S","x":20,"y":0.432},{"p":"S","x":50.5,"y":0.415},{"p":"S","x":82,"y":0.354},
      {"p":"T","x":20,"y":0.419},{"p":"T","x":56,"y":0.4065},{"p":"T","x":82,"y":0.35},
      {"p":"U","x":20,"y":0.446},{"p":"U","x":70,"y":0.4236},{"p":"U","x":82,"y":0.338}
    ],
    "brk": [
      {"p":"A","x":61.5},{"p":"B","x":36.5},{"p":"C","x":60.5},{"p":"E","x":62},{"p":"F","x":37},{"p":"G","x":54},{"p":"I","x":47},{"p":"J","x":34.5},{"p":"K","x":49.5},{"p":"L","x":39.5},{"p":"M","x":54.9},{"p":"N","x":50.5},{"p":"P","x":47},{"p":"Q","x":48.5},{"p":"R","x":51.5},{"p":"S","x":50.5},{"p":"T","x":56},{"p":"U","x":70}
    ],
    "ann": [
      {"x":61.5,"y":0.234,"x2":56.3,"y2":0.2468,"tx":61.8,"ty":0.2307,"t":"(54.9, 0.39)"}
    ]
  },
  "spacing": {"row": 5.4, "column": 0},
  "columns": 3,
  "align": {"row": "each", "column": "all"},
  "concat": [
    {"title":"(A) CST","width":300,"height":105,"encoding":{"x":{"field":"x","type":"quantitative","scale":{"domain":[15,85],"nice":false},"axis":{"title":null}}},"layer":[
      {"encoding":{"y":{"field":"y","type":"quantitative","scale":{"domain":[0.315,0.52],"nice":false},"axis":{"title":null,"values":[0.35,0.4,0.45,0.5],"format":"~g"}}},"layer":[
        {"data":{"name":"pts"},"transform":[{"filter":"datum.p=='A'"}],"mark":"circle","encoding":{}},
        {"data":{"name":"fit"},"transform":[{"filter":"datum.p=='A'"}],"mark":"line","encoding":{}}]},
      {"data":{"name":"brk"},"transform":[{"filter":"datum.p=='A'"}],"mark":"rule","encoding":{}}]},
    {"title":"(B) frontooccipital tract","width":300,"height":105,"encoding":{"x":{"field":"x","type":"quantitative","scale":{"domain":[15,85],"nice":false},"axis":{"title":null}}},"layer":[
      {"encoding":{"y":{"field":"y","type":"quantitative","scale":{"domain":[0.242,0.425],"nice":false},"axis":{"title":null,"values":[0.3,0.4],"format":"~g"}}},"layer":[
        {"data":{"name":"pts"},"transform":[{"filter":"datum.p=='B'"}],"mark":"circle","encoding":{}},
        {"data":{"name":"fit"},"transform":[{"filter":"datum.p=='B'"}],"mark":"line","encoding":{}}]},
      {"data":{"name":"brk"},"transform":[{"filter":"datum.p=='B'"}],"mark":"rule","encoding":{}}]},
    {"title":"(C) fasciculus uncinatus","width":300,"height":105,"encoding":{"x":{"field":"x","type":"quantitative","scale":{"domain":[15,85],"nice":false},"axis":{"title":null}}},"layer":[
      {"encoding":{"y":{"field":"y","type":"quantitative","scale":{"domain":[0.206,0.367],"nice":false},"axis":{"title":null,"values":[0.25,0.3,0.35],"format":"~g"}}},"layer":[
        {"data":{"name":"pts"},"transform":[{"filter":"datum.p=='C'"}],"mark":"circle","encoding":{}},
        {"data":{"name":"fit"},"transform":[{"filter":"datum.p=='C'"}],"mark":"line","encoding":{}}]},
      {"data":{"name":"brk"},"transform":[{"filter":"datum.p=='C'"}],"mark":"rule","encoding":{}}]},
    {"title":"(D) optic radiation","width":300,"height":105,"encoding":{"x":{"field":"x","type":"quantitative","scale":{"domain":[15,85],"nice":false},"axis":{"title":null}}},"layer":[
      {"encoding":{"y":{"field":"y","type":"quantitative","scale":{"domain":[0.204,0.549],"nice":false},"axis":{"title":null,"values":[0.3,0.4,0.5],"format":"~g"}}},"layer":[
        {"data":{"name":"pts"},"transform":[{"filter":"datum.p=='D'"}],"mark":"circle","encoding":{}},
        {"data":{"name":"fit"},"transform":[{"filter":"datum.p=='D'"}],"mark":"line","encoding":{}}]}]},
    {"title":"(E) SLF","width":300,"height":105,"encoding":{"x":{"field":"x","type":"quantitative","scale":{"domain":[15,85],"nice":false},"axis":{"title":null}}},"layer":[
      {"encoding":{"y":{"field":"y","type":"quantitative","scale":{"domain":[0.28,0.5],"nice":false},"axis":{"title":null,"values":[0.3,0.35,0.4,0.45],"format":"~g"}}},"layer":[
        {"data":{"name":"pts"},"transform":[{"filter":"datum.p=='E'"}],"mark":"circle","encoding":{}},
        {"data":{"name":"fit"},"transform":[{"filter":"datum.p=='E'"}],"mark":"line","encoding":{}}]},
      {"data":{"name":"brk"},"transform":[{"filter":"datum.p=='E'"}],"mark":"rule","encoding":{}}]},
    {"title":"(F) ILF","width":300,"height":105,"encoding":{"x":{"field":"x","type":"quantitative","scale":{"domain":[15,85],"nice":false},"axis":{"title":null}}},"layer":[
      {"encoding":{"y":{"field":"y","type":"quantitative","scale":{"domain":[0.146,0.336],"nice":false},"axis":{"title":null,"values":[0.2,0.3],"format":"~g"}}},"layer":[
        {"data":{"name":"pts"},"transform":[{"filter":"datum.p=='F'"}],"mark":"circle","encoding":{}},
        {"data":{"name":"fit"},"transform":[{"filter":"datum.p=='F'"}],"mark":"line","encoding":{}}]},
      {"data":{"name":"brk"},"transform":[{"filter":"datum.p=='F'"}],"mark":"rule","encoding":{}}]},
    {"title":"(G) cingulum","width":300,"height":105,"encoding":{"x":{"field":"x","type":"quantitative","scale":{"domain":[15,85],"nice":false},"axis":{"title":null}}},"layer":[
      {"encoding":{"y":{"field":"y","type":"quantitative","scale":{"domain":[0.232,0.422],"nice":false},"axis":{"title":null,"values":[0.3,0.4],"format":"~g"}}},"layer":[
        {"data":{"name":"pts"},"transform":[{"filter":"datum.p=='G'"}],"mark":"circle","encoding":{}},
        {"data":{"name":"fit"},"transform":[{"filter":"datum.p=='G'"}],"mark":"line","encoding":{}}]},
      {"data":{"name":"brk"},"transform":[{"filter":"datum.p=='G'"}],"mark":"rule","encoding":{}}]},
    {"title":"(H) SCP","width":300,"height":105,"encoding":{"x":{"field":"x","type":"quantitative","scale":{"domain":[15,85],"nice":false},"axis":{"title":null}}},"layer":[
      {"encoding":{"y":{"field":"y","type":"quantitative","scale":{"domain":[0.2,0.53],"nice":false},"axis":{"title":null,"values":[0.2,0.4],"format":"~g"}}},"layer":[
        {"data":{"name":"pts"},"transform":[{"filter":"datum.p=='H'"}],"mark":"circle","encoding":{}},
        {"data":{"name":"fit"},"transform":[{"filter":"datum.p=='H'"}],"mark":"line","encoding":{}}]}]},
    {"title":"(I) MCP","width":300,"height":105,"encoding":{"x":{"field":"x","type":"quantitative","scale":{"domain":[15,85],"nice":false},"axis":{"title":null}}},"layer":[
      {"encoding":{"y":{"field":"y","type":"quantitative","scale":{"domain":[0.15,0.437],"nice":false},"axis":{"title":null,"values":[0.2,0.3,0.4],"format":"~g"}}},"layer":[
        {"data":{"name":"pts"},"transform":[{"filter":"datum.p=='I'"}],"mark":"circle","encoding":{}},
        {"data":{"name":"fit"},"transform":[{"filter":"datum.p=='I'"}],"mark":"line","encoding":{}}]},
      {"data":{"name":"brk"},"transform":[{"filter":"datum.p=='I'"}],"mark":"rule","encoding":{}}]},
    {"title":"(J) corticostriatal tract","width":300,"height":105,"encoding":{"x":{"field":"x","type":"quantitative","scale":{"domain":[15,85],"nice":false},"axis":{"title":null}}},"layer":[
      {"encoding":{"y":{"field":"y","type":"quantitative","scale":{"domain":[0.239,0.436],"nice":false},"axis":{"title":"FA","values":[0.3,0.4],"format":"~g"}}},"layer":[
        {"data":{"name":"pts"},"transform":[{"filter":"datum.p=='J'"}],"mark":"circle","encoding":{}},
        {"data":{"name":"fit"},"transform":[{"filter":"datum.p=='J'"}],"mark":"line","encoding":{}}]},
      {"data":{"name":"brk"},"transform":[{"filter":"datum.p=='J'"}],"mark":"rule","encoding":{}}]},
    {"title":{"text":"(K) corticopontine tract","dy":1.2},"width":300,"height":105,"encoding":{"x":{"field":"x","type":"quantitative","scale":{"domain":[15,85],"nice":false},"axis":{"title":null}}},"layer":[
      {"encoding":{"y":{"field":"y","type":"quantitative","scale":{"domain":[0.248,0.405],"nice":false},"axis":{"title":null,"values":[0.3,0.4],"format":"~g"}}},"layer":[
        {"data":{"name":"pts"},"transform":[{"filter":"datum.p=='K'"}],"mark":"circle","encoding":{}},
        {"data":{"name":"fit"},"transform":[{"filter":"datum.p=='K'"}],"mark":"line","encoding":{}}]},
      {"data":{"name":"brk"},"transform":[{"filter":"datum.p=='K'"}],"mark":"rule","encoding":{}}]},
    {"title":"(L) corticorubral tract","width":300,"height":105,"encoding":{"x":{"field":"x","type":"quantitative","scale":{"domain":[15,85],"nice":false},"axis":{"title":null}}},"layer":[
      {"encoding":{"y":{"field":"y","type":"quantitative","scale":{"domain":[0.226,0.415],"nice":false},"axis":{"title":null,"values":[0.3,0.4],"format":"~g"}}},"layer":[
        {"data":{"name":"pts"},"transform":[{"filter":"datum.p=='L'"}],"mark":"circle","encoding":{}},
        {"data":{"name":"fit"},"transform":[{"filter":"datum.p=='L'"}],"mark":"line","encoding":{}}]},
      {"data":{"name":"brk"},"transform":[{"filter":"datum.p=='L'"}],"mark":"rule","encoding":{}}]},
    {"title":{"text":"(M) perforant path","dy":1.4},"width":300,"height":105,"encoding":{"x":{"field":"x","type":"quantitative","scale":{"domain":[15,85],"nice":false},"axis":{"title":null}}},"layer":[
      {"encoding":{"y":{"field":"y","type":"quantitative","scale":{"domain":[0.15,0.253],"nice":false},"axis":{"title":null,"values":[0.15,0.2,0.25],"format":"~g"}}},"layer":[
        {"data":{"name":"pts"},"transform":[{"filter":"datum.p=='M'"}],"mark":"circle","encoding":{}},
        {"data":{"name":"fit"},"transform":[{"filter":"datum.p=='M'"}],"mark":"line","encoding":{}},
        {"data":{"name":"ann"},"mark":{"type":"rule","color":"black","strokeWidth":1.5,"strokeDash":[1,0]},"encoding":{"x2":{"field":"x2"},"y2":{"field":"y2"}}},
        {"data":{"name":"ann"},"mark":{"type":"point","shape":"triangle-up","filled":true,"color":"black","size":40,"angle":301,"opacity":1},"encoding":{"x":{"field":"x2","type":"quantitative"},"y":{"field":"y2","type":"quantitative"}}},
        {"data":{"name":"ann"},"mark":{"type":"text","align":"left","baseline":"middle","fontSize":11,"color":"black"},"encoding":{"x":{"field":"tx","type":"quantitative"},"y":{"field":"ty","type":"quantitative"},"text":{"field":"t"}}}]},
      {"data":{"name":"brk"},"transform":[{"filter":"datum.p=='M'"}],"mark":"rule","encoding":{}}]},
    {"title":{"text":"(N) temporal lobe to hypothalamus","dy":0.7},"width":300,"height":105,"encoding":{"x":{"field":"x","type":"quantitative","scale":{"domain":[15,85],"nice":false},"axis":{"title":null}}},"layer":[
      {"encoding":{"y":{"field":"y","type":"quantitative","scale":{"domain":[0.168,0.305],"nice":false},"axis":{"title":null,"values":[0.2,0.25,0.3],"format":"~g"}}},"layer":[
        {"data":{"name":"pts"},"transform":[{"filter":"datum.p=='N'"}],"mark":"circle","encoding":{}},
        {"data":{"name":"fit"},"transform":[{"filter":"datum.p=='N'"}],"mark":"line","encoding":{}}]},
      {"data":{"name":"brk"},"transform":[{"filter":"datum.p=='N'"}],"mark":"rule","encoding":{}}]},
    {"title":"(O) AIC","width":300,"height":105,"encoding":{"x":{"field":"x","type":"quantitative","scale":{"domain":[15,85],"nice":false},"axis":{"title":null}}},"layer":[
      {"encoding":{"y":{"field":"y","type":"quantitative","scale":{"domain":[0.289,0.479],"nice":false},"axis":{"title":null,"values":[0.3,0.4],"format":"~g"}}},"layer":[
        {"data":{"name":"pts"},"transform":[{"filter":"datum.p=='O'"}],"mark":"circle","encoding":{}},
        {"data":{"name":"fit"},"transform":[{"filter":"datum.p=='O'"}],"mark":"line","encoding":{}}]}]},
    {"title":"(P) PIC","width":300,"height":105,"encoding":{"x":{"field":"x","type":"quantitative","scale":{"domain":[15,85],"nice":false},"axis":{"title":null}}},"layer":[
      {"encoding":{"y":{"field":"y","type":"quantitative","scale":{"domain":[0.297,0.466],"nice":false},"axis":{"title":null,"values":[0.3,0.4],"format":"~g"}}},"layer":[
        {"data":{"name":"pts"},"transform":[{"filter":"datum.p=='P'"}],"mark":"circle","encoding":{}},
        {"data":{"name":"fit"},"transform":[{"filter":"datum.p=='P'"}],"mark":"line","encoding":{}}]},
      {"data":{"name":"brk"},"transform":[{"filter":"datum.p=='P'"}],"mark":"rule","encoding":{}}]},
    {"title":{"text":"(Q) CC I associated tracts","dy":0.4},"width":300,"height":105,"encoding":{"x":{"field":"x","type":"quantitative","scale":{"domain":[15,85],"nice":false},"axis":{"title":null}}},"layer":[
      {"encoding":{"y":{"field":"y","type":"quantitative","scale":{"domain":[0.229,0.511],"nice":false},"axis":{"title":null,"values":[0.3,0.4,0.5],"format":"~g"}}},"layer":[
        {"data":{"name":"pts"},"transform":[{"filter":"datum.p=='Q'"}],"mark":"circle","encoding":{}},
        {"data":{"name":"fit"},"transform":[{"filter":"datum.p=='Q'"}],"mark":"line","encoding":{}}]},
      {"data":{"name":"brk"},"transform":[{"filter":"datum.p=='Q'"}],"mark":"rule","encoding":{}}]},
    {"title":"(R) CC II associated tracts","width":300,"height":105,"encoding":{"x":{"field":"x","type":"quantitative","scale":{"domain":[15,85],"nice":false},"axis":{"title":null}}},"layer":[
      {"encoding":{"y":{"field":"y","type":"quantitative","scale":{"domain":[0.2,0.495],"nice":false},"axis":{"title":null,"values":[0.2,0.3,0.4],"format":"~g"}}},"layer":[
        {"data":{"name":"pts"},"transform":[{"filter":"datum.p=='R'"}],"mark":"circle","encoding":{}},
        {"data":{"name":"fit"},"transform":[{"filter":"datum.p=='R'"}],"mark":"line","encoding":{}}]},
      {"data":{"name":"brk"},"transform":[{"filter":"datum.p=='R'"}],"mark":"rule","encoding":{}}]},
    {"title":"(S) CC III associated tracts","width":300,"height":105,"encoding":{"x":{"field":"x","type":"quantitative","scale":{"domain":[15,85],"nice":false},"axis":{"title":null}}},"layer":[
      {"encoding":{"y":{"field":"y","type":"quantitative","scale":{"domain":[0.239,0.574],"nice":false},"axis":{"title":null,"values":[0.3,0.4,0.5],"format":"~g"}}},"layer":[
        {"data":{"name":"pts"},"transform":[{"filter":"datum.p=='S'"}],"mark":"circle","encoding":{}},
        {"data":{"name":"fit"},"transform":[{"filter":"datum.p=='S'"}],"mark":"line","encoding":{}}]},
      {"data":{"name":"brk"},"transform":[{"filter":"datum.p=='S'"}],"mark":"rule","encoding":{}}]},
    {"title":"(T) CC IV associated tracts","width":300,"height":105,"encoding":{"x":{"field":"x","type":"quantitative","scale":{"domain":[15,85],"nice":false},"axis":{"title":"Age / y"}}},"layer":[
      {"encoding":{"y":{"field":"y","type":"quantitative","scale":{"domain":[0.243,0.537],"nice":false},"axis":{"title":null,"values":[0.3,0.4,0.5],"format":"~g"}}},"layer":[
        {"data":{"name":"pts"},"transform":[{"filter":"datum.p=='T'"}],"mark":"circle","encoding":{}},
        {"data":{"name":"fit"},"transform":[{"filter":"datum.p=='T'"}],"mark":"line","encoding":{}}]},
      {"data":{"name":"brk"},"transform":[{"filter":"datum.p=='T'"}],"mark":"rule","encoding":{}}]},
    {"title":"(U) CC V associated tracts","width":300,"height":105,"encoding":{"x":{"field":"x","type":"quantitative","scale":{"domain":[15,85],"nice":false},"axis":{"title":null}}},"layer":[
      {"encoding":{"y":{"field":"y","type":"quantitative","scale":{"domain":[0.237,0.56],"nice":false},"axis":{"title":null,"values":[0.3,0.4,0.5],"format":"~g"}}},"layer":[
        {"data":{"name":"pts"},"transform":[{"filter":"datum.p=='U'"}],"mark":"circle","encoding":{}},
        {"data":{"name":"fit"},"transform":[{"filter":"datum.p=='U'"}],"mark":"line","encoding":{}}]},
      {"data":{"name":"brk"},"transform":[{"filter":"datum.p=='U'"}],"mark":"rule","encoding":{}}]}
  ],
  "config": {
    "font": "DejaVu Sans",
    "view": {"stroke": "black", "strokeWidth": 3},
    "axis": {"domain": false, "ticks": true, "tickSize": -5, "tickWidth": 2, "tickColor": "black", "grid": true, "gridColor": "#d9d9d9", "gridWidth": 2.5, "labelFont": "DejaVu Sans", "labelFontSize": 18, "labelColor": "#222", "labelFlush": false, "labelOverlap": false, "titleFont": "DejaVu Sans", "titleFontSize": 19, "titleFontWeight": "normal", "titleColor": "#222"},
    "axisX": {"tickCount": 4, "labelPadding": 18, "titlePadding": 13},
    "axisY": {"labelPadding": 11, "minExtent": 40, "maxExtent": 40, "titlePadding": 14},
    "title": {"fontSize": 14, "fontWeight": "bold", "offset": -2, "dy": -3, "color": "black", "font": "DejaVu Sans", "frame": "group"},
    "circle": {"size": 18, "color": "black", "opacity": 1},
    "line": {"color": "#ff0000", "strokeWidth": 5},
    "rule": {"color": "#0000ff", "strokeWidth": 3, "strokeDash": [3.5, 3.5]}
  }
}
